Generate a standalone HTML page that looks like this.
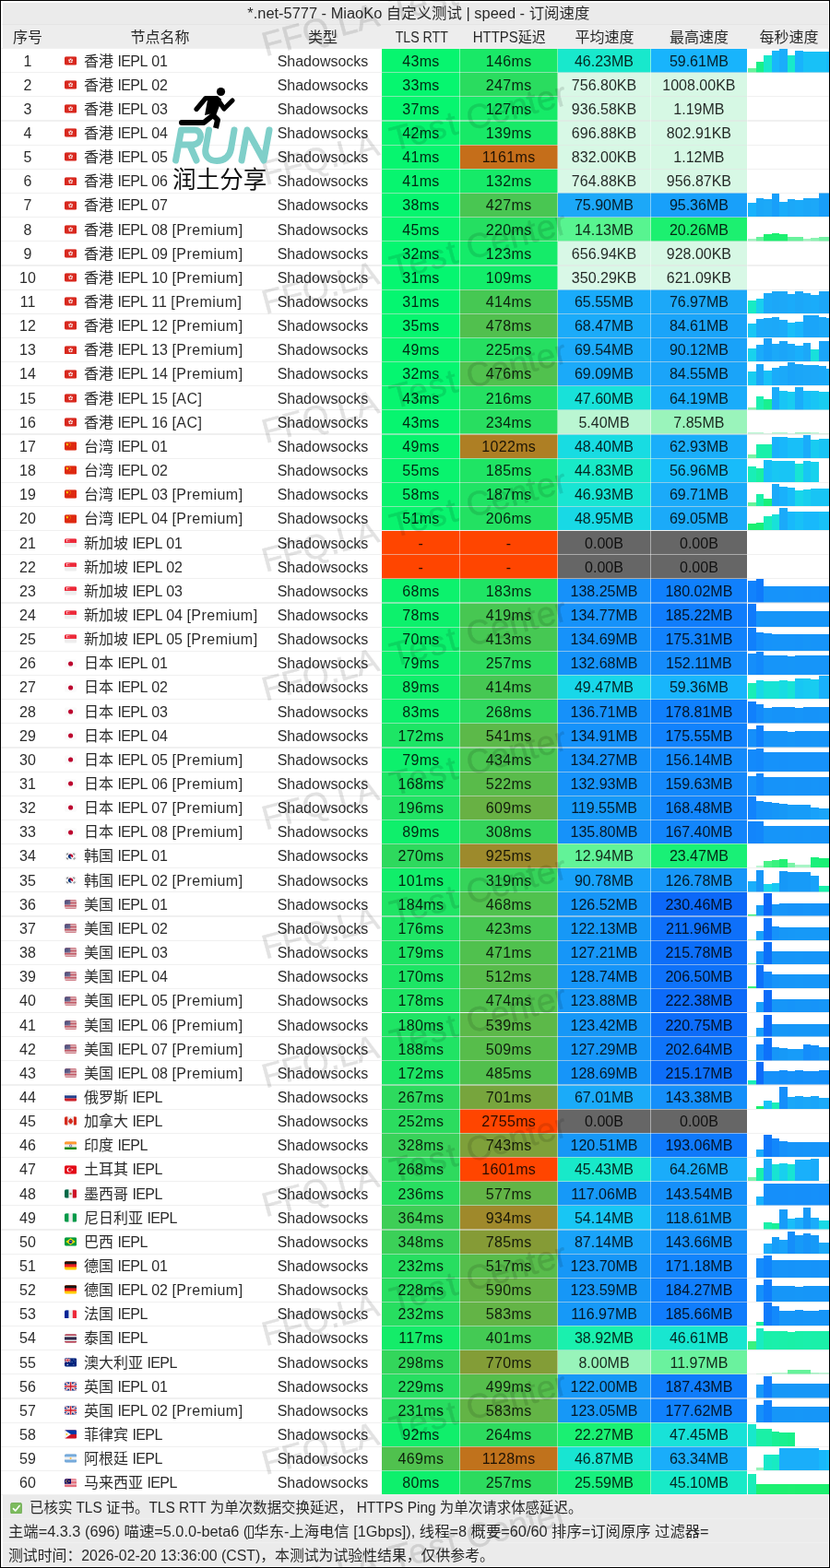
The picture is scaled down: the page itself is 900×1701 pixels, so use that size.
<!DOCTYPE html><html lang="zh"><head><meta charset="utf-8"><title>MiaoKo speed</title><style>
html,body{margin:0;padding:0}
body{width:900px;height:1701px;position:relative;overflow:hidden;background:#fff;font-family:"Liberation Sans","Noto Sans CJK SC",sans-serif;font-size:16px;color:rgba(0,0,0,.84)}
#pg{position:absolute;left:0;top:0;width:900px;height:1701px;will-change:transform}
.band{position:absolute;left:0;width:900px}
.r{position:absolute;left:0;width:900px;height:26.15px}
.t{position:absolute;height:26.15px;line-height:27.3px;white-space:nowrap}
.t.h1{line-height:29.2px}.t.h2{line-height:29.8px}
.r .t{top:0}
.c{text-align:center}
.d{letter-spacing:.35px;text-indent:.35px}.ie{letter-spacing:-.6px}.pm{letter-spacing:.47px}
.cj{display:inline-block;color:rgba(0,0,0,.84);overflow:visible;white-space:nowrap;letter-spacing:0;text-indent:0;text-align:left;font-family:"Liberation Sans","Noto Sans CJK SC",sans-serif;font-size:16px}
.fl{position:absolute;left:70px;top:8.3px;width:13.2px;height:9.9px}
.sp{position:absolute;left:810.5px;top:0;width:88.5px;height:26.15px}
.hl{position:absolute;left:0;width:900px;height:1.2px;background:rgba(228,228,228,.55)}
.hl.w{background:rgba(255,255,255,.22)}.hl.d{background:rgba(0,0,0,.035)}
.vl{position:absolute;width:1.2px;background:rgba(255,255,255,.45)}
.chk{width:13.2px;height:12.6px;vertical-align:-1.6px}
.tofu{width:6px;height:14px;vertical-align:-2px}
.wms{position:absolute;left:0;top:0;font-size:37px;fill:#000;stroke:#000;stroke-width:.5px;opacity:.115}
.sx{display:inline-block;transform-origin:50% 50%}
.sx.l{transform-origin:0 50%}
.logo{position:absolute;left:175px;top:85px}
.lt{position:absolute;left:187px;top:184.2px;height:25px;line-height:0}
.lt .cj{color:#111;font-size:25.6px;line-height:25.6px;position:relative;top:-1.5px}
.bw{position:absolute;left:1px;top:1px;width:898px;height:1699px;box-sizing:border-box;border:1px solid #fff;border-left-width:2px;border-top-width:2px}
.bk{position:absolute;left:0;top:0;width:900px;height:1701px;box-sizing:border-box;border:1px solid #000}
</style></head><body><svg width="0" height="0" style="position:absolute"><defs><clipPath id="fc"><rect width="36" height="26" rx="4.5"/></clipPath><symbol id="f-hk" viewBox="0 0 36 26"><g clip-path="url(#fc)"><rect width="36" height="26" fill="#D8281E"/><circle cx="18" cy="13" r="6.5" fill="#fff"/><circle cx="18" cy="13" r="2" fill="#D8281E"/><rect x="17.3" y="6" width="1.4" height="7" fill="#D8281E" transform="rotate(36 18 13)"/><rect x="17.3" y="6" width="1.4" height="7" fill="#D8281E" transform="rotate(108 18 13)"/><rect x="17.3" y="6" width="1.4" height="7" fill="#D8281E" transform="rotate(180 18 13)"/><rect x="17.3" y="6" width="1.4" height="7" fill="#D8281E" transform="rotate(252 18 13)"/><rect x="17.3" y="6" width="1.4" height="7" fill="#D8281E" transform="rotate(324 18 13)"/></g></symbol><symbol id="f-cn" viewBox="0 0 36 26"><g clip-path="url(#fc)"><rect width="36" height="26" fill="#DE2910"/><polygon points="8.0,3.0 9.2,6.3 12.8,6.5 10.0,8.6 10.9,12.0 8.0,10.1 5.1,12.0 6.0,8.6 3.2,6.5 6.8,6.3" fill="#FFDE02"/><polygon points="15.0,1.9 15.4,3.0 16.5,3.0 15.6,3.7 15.9,4.8 15.0,4.2 14.1,4.8 14.4,3.7 13.5,3.0 14.6,3.0" fill="#FFDE02"/><polygon points="17.5,4.9 17.9,6.0 19.0,6.0 18.1,6.7 18.4,7.8 17.5,7.2 16.6,7.8 16.9,6.7 16.0,6.0 17.1,6.0" fill="#FFDE02"/><polygon points="17.5,8.9 17.9,10.0 19.0,10.0 18.1,10.7 18.4,11.8 17.5,11.2 16.6,11.8 16.9,10.7 16.0,10.0 17.1,10.0" fill="#FFDE02"/><polygon points="15.0,11.9 15.4,13.0 16.5,13.0 15.6,13.7 15.9,14.8 15.0,14.2 14.1,14.8 14.4,13.7 13.5,13.0 14.6,13.0" fill="#FFDE02"/></g></symbol><symbol id="f-sg" viewBox="0 0 36 26"><g clip-path="url(#fc)"><rect width="36" height="26" fill="#EEEEEE"/><rect width="36" height="13" fill="#ED2939"/><circle cx="9" cy="6.5" r="4" fill="#fff"/><circle cx="10.8" cy="6.5" r="3.6" fill="#ED2939"/><polygon points="13.0,2.4 13.3,3.1 14.0,3.2 13.4,3.6 13.6,4.4 13.0,4.0 12.4,4.4 12.6,3.6 12.0,3.2 12.7,3.1" fill="#fff"/><polygon points="11.0,3.9 11.3,4.6 12.0,4.7 11.4,5.1 11.6,5.9 11.0,5.5 10.4,5.9 10.6,5.1 10.0,4.7 10.7,4.6" fill="#fff"/><polygon points="15.0,3.9 15.3,4.6 16.0,4.7 15.4,5.1 15.6,5.9 15.0,5.5 14.4,5.9 14.6,5.1 14.0,4.7 14.7,4.6" fill="#fff"/><polygon points="11.8,6.9 12.1,7.6 12.8,7.7 12.2,8.1 12.4,8.9 11.8,8.5 11.2,8.9 11.4,8.1 10.8,7.7 11.5,7.6" fill="#fff"/><polygon points="14.2,6.9 14.5,7.6 15.2,7.7 14.6,8.1 14.8,8.9 14.2,8.5 13.6,8.9 13.8,8.1 13.2,7.7 13.9,7.6" fill="#fff"/></g></symbol><symbol id="f-jp" viewBox="0 0 36 26"><g clip-path="url(#fc)"><rect width="36" height="26" fill="#FAFAFA"/><circle cx="18" cy="13" r="7" fill="#BC002D"/></g></symbol><symbol id="f-kr" viewBox="0 0 36 26"><g clip-path="url(#fc)"><rect width="36" height="26" fill="#FAFAFA"/><path d="M11.8 9.5a7 7 0 0 1 12.4 7z" fill="#C60C30"/><path d="M24.2 16.5a7 7 0 0 1-12.4-7a3.5 3.5 0 0 1 6.2 3.5a3.5 3.5 0 0 0 6.2 3.5z" fill="#003478"/><g stroke="#292F33" stroke-width="1.6"><path d="M5 8l4-5M7 9.5l4-5M26 21.5l4-5M28 23l4-5M25 4.5l4 5M27 3l4 5M5 18l4 5M7 16.5l4 5"/></g></g></symbol><symbol id="f-us" viewBox="0 0 36 26"><g clip-path="url(#fc)"><rect width="36" height="26" fill="#EEEEEE"/><rect y="0" width="36" height="2" fill="#B22334"/><rect y="4" width="36" height="2" fill="#B22334"/><rect y="8" width="36" height="2" fill="#B22334"/><rect y="12" width="36" height="2" fill="#B22334"/><rect y="16" width="36" height="2" fill="#B22334"/><rect y="20" width="36" height="2" fill="#B22334"/><rect y="24" width="36" height="2" fill="#B22334"/><rect width="17" height="14" fill="#3C3B6E"/><circle cx="2.5" cy="2.5" r=".8" fill="#fff"/><circle cx="5.5" cy="2.5" r=".8" fill="#fff"/><circle cx="8.5" cy="2.5" r=".8" fill="#fff"/><circle cx="11.5" cy="2.5" r=".8" fill="#fff"/><circle cx="14.5" cy="2.5" r=".8" fill="#fff"/><circle cx="2.5" cy="5.5" r=".8" fill="#fff"/><circle cx="5.5" cy="5.5" r=".8" fill="#fff"/><circle cx="8.5" cy="5.5" r=".8" fill="#fff"/><circle cx="11.5" cy="5.5" r=".8" fill="#fff"/><circle cx="14.5" cy="5.5" r=".8" fill="#fff"/><circle cx="2.5" cy="8.5" r=".8" fill="#fff"/><circle cx="5.5" cy="8.5" r=".8" fill="#fff"/><circle cx="8.5" cy="8.5" r=".8" fill="#fff"/><circle cx="11.5" cy="8.5" r=".8" fill="#fff"/><circle cx="14.5" cy="8.5" r=".8" fill="#fff"/><circle cx="2.5" cy="11.5" r=".8" fill="#fff"/><circle cx="5.5" cy="11.5" r=".8" fill="#fff"/><circle cx="8.5" cy="11.5" r=".8" fill="#fff"/><circle cx="11.5" cy="11.5" r=".8" fill="#fff"/><circle cx="14.5" cy="11.5" r=".8" fill="#fff"/></g></symbol><symbol id="f-ru" viewBox="0 0 36 26"><g clip-path="url(#fc)"><rect width="36" height="26" fill="#F6F6F6"/><rect y="8.7" width="36" height="8.7" fill="#22408C"/><rect y="17.3" width="36" height="8.7" fill="#CE2028"/></g></symbol><symbol id="f-ca" viewBox="0 0 36 26"><g clip-path="url(#fc)"><rect width="36" height="26" fill="#EEEEEE"/><rect width="9" height="26" fill="#D52B1E"/><rect x="27" width="9" height="26" fill="#D52B1E"/><path d="M18 4l2 4 3-1-1 5 3-1-1 3 2 1-5 4 .5 3h-7l.5-3-5-4 2-1-1-3 3 1-1-5 3 1z" fill="#D52B1E"/></g></symbol><symbol id="f-in" viewBox="0 0 36 26"><g clip-path="url(#fc)"><rect width="36" height="26" fill="#EEEEEE"/><rect width="36" height="8.7" fill="#FF9933"/><rect y="17.3" width="36" height="8.7" fill="#138808"/><circle cx="18" cy="13" r="3.3" fill="none" stroke="#000080" stroke-width="1.2"/></g></symbol><symbol id="f-tr" viewBox="0 0 36 26"><g clip-path="url(#fc)"><rect width="36" height="26" fill="#E30917"/><circle cx="14" cy="13" r="7" fill="#fff"/><circle cx="16" cy="13" r="5.6" fill="#E30917"/><polygon points="23.0,9.8 23.8,11.9 26.0,12.0 24.3,13.4 24.9,15.6 23.0,14.3 21.1,15.6 21.7,13.4 20.0,12.0 22.2,11.9" fill="#fff"/></g></symbol><symbol id="f-mx" viewBox="0 0 36 26"><g clip-path="url(#fc)"><rect width="36" height="26" fill="#EEEEEE"/><rect width="12" height="26" fill="#006847"/><rect x="24" width="12" height="26" fill="#CE1126"/><ellipse cx="18" cy="13" rx="3.2" ry="3.6" fill="#A6783F"/></g></symbol><symbol id="f-ng" viewBox="0 0 36 26"><g clip-path="url(#fc)"><rect width="36" height="26" fill="#EEEEEE"/><rect width="12" height="26" fill="#009A49"/><rect x="24" width="12" height="26" fill="#009A49"/></g></symbol><symbol id="f-br" viewBox="0 0 36 26"><g clip-path="url(#fc)"><rect width="36" height="26" fill="#009B3A"/><path d="M18 3l14 10-14 10L4 13z" fill="#FEDF01"/><circle cx="18" cy="13" r="5.6" fill="#002776"/><path d="M12.6 11.8c4-.8 8 .5 10.8 3" stroke="#fff" stroke-width="1.2" fill="none"/></g></symbol><symbol id="f-de" viewBox="0 0 36 26"><g clip-path="url(#fc)"><rect width="36" height="26" fill="#FFCD05"/><rect width="36" height="17.3" fill="#ED1F24"/><rect width="36" height="8.7" fill="#141414"/></g></symbol><symbol id="f-fr" viewBox="0 0 36 26"><g clip-path="url(#fc)"><rect width="36" height="26" fill="#EEEEEE"/><rect width="12" height="26" fill="#002495"/><rect x="24" width="12" height="26" fill="#ED2939"/></g></symbol><symbol id="f-th" viewBox="0 0 36 26"><g clip-path="url(#fc)"><rect width="36" height="26" fill="#EEEEEE"/><rect width="36" height="4.3" fill="#A51931"/><rect y="21.7" width="36" height="4.3" fill="#A51931"/><rect y="8.7" width="36" height="8.6" fill="#2D2A4A"/></g></symbol><symbol id="f-gb" viewBox="0 0 36 26"><g clip-path="url(#fc)"><g><rect width="36" height="26" fill="#00247D"/><path d="M0 0L36 26M36 0L0 26" stroke="#fff" stroke-width="5"/><path d="M0 0L36 26M36 0L0 26" stroke="#CF1B2B" stroke-width="1.8"/><path d="M18 0V26M0 13H36" stroke="#fff" stroke-width="8"/><path d="M18 0V26M0 13H36" stroke="#CF1B2B" stroke-width="4.4"/></g></g></symbol><symbol id="f-au" viewBox="0 0 36 26"><g clip-path="url(#fc)"><rect width="36" height="26" fill="#00247D"/><svg width="18" height="13" viewBox="0 0 18 13"><g><rect width="18" height="13" fill="#00247D"/><path d="M0 0L18 13M18 0L0 13" stroke="#fff" stroke-width="2.6"/><path d="M0 0L18 13M18 0L0 13" stroke="#CF1B2B" stroke-width="1"/><path d="M9 0V13M0 6.5H18" stroke="#fff" stroke-width="4"/><path d="M9 0V13M0 6.5H18" stroke="#CF1B2B" stroke-width="2.2"/></g></svg><polygon points="9.0,16.3 9.8,18.4 12.0,18.5 10.3,19.9 10.9,22.1 9.0,20.8 7.1,22.1 7.7,19.9 6.0,18.5 8.2,18.4" fill="#fff"/><polygon points="27.0,3.3 27.4,4.4 28.6,4.5 27.7,5.2 28.0,6.4 27.0,5.7 26.0,6.4 26.3,5.2 25.4,4.5 26.6,4.4" fill="#fff"/><polygon points="22.0,9.8 22.4,10.9 23.6,11.0 22.7,11.7 23.0,12.9 22.0,12.2 21.0,12.9 21.3,11.7 20.4,11.0 21.6,10.9" fill="#fff"/><polygon points="31.0,8.3 31.4,9.4 32.6,9.5 31.7,10.2 32.0,11.4 31.0,10.7 30.0,11.4 30.3,10.2 29.4,9.5 30.6,9.4" fill="#fff"/><polygon points="27.0,18.8 27.4,19.9 28.6,20.0 27.7,20.7 28.0,21.9 27.0,21.2 26.0,21.9 26.3,20.7 25.4,20.0 26.6,19.9" fill="#fff"/></g></symbol><symbol id="f-ph" viewBox="0 0 36 26"><g clip-path="url(#fc)"><rect width="36" height="26" fill="#CE1126"/><rect width="36" height="13" fill="#0038A8"/><path d="M0 0l19 13L0 26z" fill="#F5F5F5"/><circle cx="6.5" cy="13" r="2.6" fill="#FCD116"/></g></symbol><symbol id="f-ar" viewBox="0 0 36 26"><g clip-path="url(#fc)"><rect width="36" height="26" fill="#F2F2F2"/><rect width="36" height="8.7" fill="#75AADB"/><rect y="17.3" width="36" height="8.7" fill="#75AADB"/><circle cx="18" cy="13" r="2.8" fill="#FCBF49"/></g></symbol><symbol id="f-my" viewBox="0 0 36 26"><g clip-path="url(#fc)"><rect width="36" height="26" fill="#EEEEEE"/><rect y="0.00" width="36" height="1.86" fill="#DD2E44"/><rect y="3.72" width="36" height="1.86" fill="#DD2E44"/><rect y="7.44" width="36" height="1.86" fill="#DD2E44"/><rect y="11.16" width="36" height="1.86" fill="#DD2E44"/><rect y="14.88" width="36" height="1.86" fill="#DD2E44"/><rect y="18.60" width="36" height="1.86" fill="#DD2E44"/><rect y="22.32" width="36" height="1.86" fill="#DD2E44"/><rect width="19" height="14.9" fill="#010066"/><circle cx="7.5" cy="7.4" r="4.6" fill="#FFCC4D"/><circle cx="9" cy="7.4" r="4" fill="#010066"/><polygon points="13.5,4.6 14.2,6.4 16.2,6.5 14.6,7.8 15.1,9.7 13.5,8.6 11.9,9.7 12.4,7.8 10.8,6.5 12.8,6.4" fill="#FFCC4D"/></g></symbol></defs></svg><div id="pg"><div class="band" style="top:0;height:26.35px;background:#ebebeb"></div><div class="band" style="top:26.35px;height:26.15px;background:#ededed"></div><div class="band" style="top:1621.50px;height:79.50px;background:#ebebeb"></div><div class="bw"></div><div class="t c h1" style="top:0.20px;left:253.5px;width:400px"><span class="sx" style="transform:scaleX(1.026)">*.net-5777 - MiaoKo <span class="cj" style="width:80px">自定义测试</span> | speed - <span class="cj" style="width:64px">订阅速度</span></span></div><div class="t c h2" style="top:26.35px;left:-30px;width:120px"><span class="sx" style="transform:scaleX(1)"><span class="cj" style="width:32px">序号</span></span></div><div class="t c h2" style="top:26.35px;left:113.5px;width:120px"><span class="sx" style="transform:scaleX(1)"><span class="cj" style="width:64px">节点名称</span></span></div><div class="t c h2" style="top:26.35px;left:290px;width:120px"><span class="sx" style="transform:scaleX(1)"><span class="cj" style="width:32px">类型</span></span></div><div class="t c h2" style="top:26.35px;left:397.5px;width:120px"><span class="sx" style="transform:scaleX(0.885)">TLS RTT</span></div><div class="t c h2" style="top:26.35px;left:492px;width:120px"><span class="sx" style="transform:scaleX(0.936)">HTTPS<span class="cj" style="width:32px">延迟</span></span></div><div class="t c h2" style="top:26.35px;left:595.5px;width:120px"><span class="sx" style="transform:scaleX(1)"><span class="cj" style="width:64px">平均速度</span></span></div><div class="t c h2" style="top:26.35px;left:698px;width:120px"><span class="sx" style="transform:scaleX(1)"><span class="cj" style="width:64px">最高速度</span></span></div><div class="t c h2" style="top:26.35px;left:795.5px;width:120px"><span class="sx" style="transform:scaleX(1)"><span class="cj" style="width:64px">每秒速度</span></span></div><div class="r" style="top:52.50px"><div class="t c" style="left:0;width:60px">1</div><svg class="fl" viewBox="0 0 36 26"><use href="#f-hk"/></svg><div class="t" style="left:91px"><span class="cj" style="width:32px">香港</span> <span class="ie">IEPL</span> 01</div><div class="t c" style="left:290px;width:120px">Shadowsocks</div><div class="t c d" style="left:414px;width:84.5px;background:#07f56f">43ms</div><div class="t c d" style="left:498.5px;width:106.0px;background:#19e867">146ms</div><div class="t c" style="left:604.5px;width:101.0px;background:#18e8cc">46.23MB</div><div class="t c" style="left:705.5px;width:104.79999999999995px;background:#18b4fc">59.61MB</div><svg class="sp" viewBox="0 0 88.5 26.15" preserveAspectRatio="none" shape-rendering="crispEdges"><rect x="0" y="20.97" width="8.55" height="5.18" fill="#65f39a"/><rect x="8.5" y="14.49" width="8.55" height="11.65" fill="#18f088"/><rect x="17" y="7.50" width="8.55" height="18.65" fill="#18e9ca"/><rect x="25.5" y="2.06" width="8.55" height="24.09" fill="#18b7fb"/><rect x="34" y="0.25" width="8.55" height="25.90" fill="#1aadfa"/><rect x="42.5" y="7.50" width="8.55" height="18.65" fill="#18e9ca"/><rect x="51" y="1.55" width="8.55" height="24.60" fill="#18b3fc"/><rect x="59.5" y="3.36" width="8.55" height="22.79" fill="#18c1f7"/><rect x="68" y="3.36" width="8.55" height="22.79" fill="#18c1f7"/><rect x="76.5" y="3.36" width="8.55" height="22.79" fill="#18c1f7"/><rect x="85" y="2.84" width="8.55" height="23.31" fill="#18bcfa"/></svg></div><div class="r" style="top:78.65px"><div class="t c" style="left:0;width:60px">2</div><svg class="fl" viewBox="0 0 36 26"><use href="#f-hk"/></svg><div class="t" style="left:91px"><span class="cj" style="width:32px">香港</span> <span class="ie">IEPL</span> 02</div><div class="t c" style="left:290px;width:120px">Shadowsocks</div><div class="t c d" style="left:414px;width:84.5px;background:#06f66f">33ms</div><div class="t c d" style="left:498.5px;width:106.0px;background:#2adc5f">247ms</div><div class="t c" style="left:604.5px;width:101.0px;background:#d8f8e6">756.80KB</div><div class="t c" style="left:705.5px;width:104.79999999999995px;background:#d7f8e5">1008.00KB</div></div><div class="r" style="top:104.80px"><div class="t c" style="left:0;width:60px">3</div><svg class="fl" viewBox="0 0 36 26"><use href="#f-hk"/></svg><div class="t" style="left:91px"><span class="cj" style="width:32px">香港</span> <span class="ie">IEPL</span> 03</div><div class="t c" style="left:290px;width:120px">Shadowsocks</div><div class="t c d" style="left:414px;width:84.5px;background:#06f66f">37ms</div><div class="t c d" style="left:498.5px;width:106.0px;background:#16eb68">127ms</div><div class="t c" style="left:604.5px;width:101.0px;background:#d7f8e5">936.58KB</div><div class="t c" style="left:705.5px;width:104.79999999999995px;background:#d6f8e4">1.19MB</div></div><div class="r" style="top:130.95px"><div class="t c" style="left:0;width:60px">4</div><svg class="fl" viewBox="0 0 36 26"><use href="#f-hk"/></svg><div class="t" style="left:91px"><span class="cj" style="width:32px">香港</span> <span class="ie">IEPL</span> 04</div><div class="t c" style="left:290px;width:120px">Shadowsocks</div><div class="t c d" style="left:414px;width:84.5px;background:#07f56f">42ms</div><div class="t c d" style="left:498.5px;width:106.0px;background:#18e967">139ms</div><div class="t c" style="left:604.5px;width:101.0px;background:#d8f8e6">696.88KB</div><div class="t c" style="left:705.5px;width:104.79999999999995px;background:#d7f8e5">802.91KB</div></div><div class="r" style="top:157.10px"><div class="t c" style="left:0;width:60px">5</div><svg class="fl" viewBox="0 0 36 26"><use href="#f-hk"/></svg><div class="t" style="left:91px"><span class="cj" style="width:32px">香港</span> <span class="ie">IEPL</span> 05</div><div class="t c" style="left:290px;width:120px">Shadowsocks</div><div class="t c d" style="left:414px;width:84.5px;background:#07f56f">41ms</div><div class="t c d" style="left:498.5px;width:106.0px;background:#c56e1a">1161ms</div><div class="t c" style="left:604.5px;width:101.0px;background:#d7f8e5">832.00KB</div><div class="t c" style="left:705.5px;width:104.79999999999995px;background:#d6f8e4">1.12MB</div></div><div class="r" style="top:183.25px"><div class="t c" style="left:0;width:60px">6</div><svg class="fl" viewBox="0 0 36 26"><use href="#f-hk"/></svg><div class="t" style="left:91px"><span class="cj" style="width:32px">香港</span> <span class="ie">IEPL</span> 06</div><div class="t c" style="left:290px;width:120px">Shadowsocks</div><div class="t c d" style="left:414px;width:84.5px;background:#07f56f">41ms</div><div class="t c d" style="left:498.5px;width:106.0px;background:#16ea68">132ms</div><div class="t c" style="left:604.5px;width:101.0px;background:#d8f8e6">764.88KB</div><div class="t c" style="left:705.5px;width:104.79999999999995px;background:#d7f8e5">956.87KB</div></div><div class="r" style="top:209.40px"><div class="t c" style="left:0;width:60px">7</div><svg class="fl" viewBox="0 0 36 26"><use href="#f-hk"/></svg><div class="t" style="left:91px"><span class="cj" style="width:32px">香港</span> <span class="ie">IEPL</span> 07</div><div class="t c" style="left:290px;width:120px">Shadowsocks</div><div class="t c d" style="left:414px;width:84.5px;background:#06f56f">38ms</div><div class="t c d" style="left:498.5px;width:106.0px;background:#49c652">427ms</div><div class="t c" style="left:604.5px;width:101.0px;background:#1ca8f8">75.90MB</div><div class="t c" style="left:705.5px;width:104.79999999999995px;background:#18a0fa">95.36MB</div><svg class="sp" viewBox="0 0 88.5 26.15" preserveAspectRatio="none" shape-rendering="crispEdges"><rect x="0" y="10.61" width="8.55" height="15.54" fill="#18b2fc"/><rect x="8.5" y="5.95" width="8.55" height="20.20" fill="#1ba7f8"/><rect x="17" y="7.24" width="8.55" height="18.91" fill="#1ca9f8"/><rect x="25.5" y="1.03" width="8.55" height="25.12" fill="#189ffa"/><rect x="34" y="9.83" width="8.55" height="16.32" fill="#1aadfa"/><rect x="42.5" y="6.73" width="8.55" height="19.42" fill="#1ca8f8"/><rect x="51" y="8.02" width="8.55" height="18.13" fill="#1baaf9"/><rect x="59.5" y="5.95" width="8.55" height="20.20" fill="#1ba7f8"/><rect x="68" y="6.47" width="8.55" height="19.68" fill="#1ca8f8"/><rect x="76.5" y="0.25" width="8.55" height="25.90" fill="#189ef9"/><rect x="85" y="0.25" width="8.55" height="25.90" fill="#189ef9"/></svg></div><div class="r" style="top:235.55px"><div class="t c" style="left:0;width:60px">8</div><svg class="fl" viewBox="0 0 36 26"><use href="#f-hk"/></svg><div class="t" style="left:91px"><span class="cj" style="width:32px">香港</span> <span class="ie">IEPL</span> 08 <span class="pm">[Premium]</span></div><div class="t c" style="left:290px;width:120px">Shadowsocks</div><div class="t c d" style="left:414px;width:84.5px;background:#08f56f">45ms</div><div class="t c d" style="left:498.5px;width:106.0px;background:#25df61">220ms</div><div class="t c" style="left:604.5px;width:101.0px;background:#58f490">14.13MB</div><div class="t c" style="left:705.5px;width:104.79999999999995px;background:#1cf070">20.26MB</div><svg class="sp" viewBox="0 0 88.5 26.15" preserveAspectRatio="none" shape-rendering="crispEdges"><rect x="0" y="23.04" width="8.55" height="3.11" fill="#a0f4c0"/><rect x="8.5" y="20.97" width="8.55" height="5.18" fill="#67f29c"/><rect x="17" y="17.60" width="8.55" height="8.55" fill="#1cf070"/><rect x="25.5" y="17.09" width="8.55" height="9.06" fill="#1bf071"/><rect x="34" y="17.60" width="8.55" height="8.55" fill="#1cf070"/><rect x="42.5" y="20.97" width="8.55" height="5.18" fill="#67f29c"/><rect x="51" y="20.97" width="8.55" height="5.18" fill="#67f29c"/><rect x="59.5" y="23.04" width="8.55" height="3.11" fill="#a0f4c0"/><rect x="68" y="22.27" width="8.55" height="3.88" fill="#8af3b1"/><rect x="76.5" y="21.49" width="8.55" height="4.66" fill="#75f2a5"/><rect x="85" y="21.49" width="8.55" height="4.66" fill="#75f2a5"/></svg></div><div class="r" style="top:261.70px"><div class="t c" style="left:0;width:60px">9</div><svg class="fl" viewBox="0 0 36 26"><use href="#f-hk"/></svg><div class="t" style="left:91px"><span class="cj" style="width:32px">香港</span> <span class="ie">IEPL</span> 09 <span class="pm">[Premium]</span></div><div class="t c" style="left:290px;width:120px">Shadowsocks</div><div class="t c d" style="left:414px;width:84.5px;background:#05f670">32ms</div><div class="t c d" style="left:498.5px;width:106.0px;background:#15eb69">123ms</div><div class="t c" style="left:604.5px;width:101.0px;background:#d8f8e6">656.94KB</div><div class="t c" style="left:705.5px;width:104.79999999999995px;background:#d7f8e5">928.00KB</div></div><div class="r" style="top:287.85px"><div class="t c" style="left:0;width:60px">10</div><svg class="fl" viewBox="0 0 36 26"><use href="#f-hk"/></svg><div class="t" style="left:91px"><span class="cj" style="width:32px">香港</span> <span class="ie">IEPL</span> 10 <span class="pm">[Premium]</span></div><div class="t c" style="left:290px;width:120px">Shadowsocks</div><div class="t c d" style="left:414px;width:84.5px;background:#05f670">31ms</div><div class="t c d" style="left:498.5px;width:106.0px;background:#13ed6a">109ms</div><div class="t c" style="left:604.5px;width:101.0px;background:#d9f8e7">350.29KB</div><div class="t c" style="left:705.5px;width:104.79999999999995px;background:#d8f8e6">621.09KB</div></div><div class="r" style="top:314.00px"><div class="t c" style="left:0;width:60px">11</div><svg class="fl" viewBox="0 0 36 26"><use href="#f-hk"/></svg><div class="t" style="left:91px"><span class="cj" style="width:32px">香港</span> <span class="ie">IEPL</span> 11 <span class="pm">[Premium]</span></div><div class="t c" style="left:290px;width:120px">Shadowsocks</div><div class="t c d" style="left:414px;width:84.5px;background:#05f670">31ms</div><div class="t c d" style="left:498.5px;width:106.0px;background:#46c853">414ms</div><div class="t c" style="left:604.5px;width:101.0px;background:#1aabfa">65.55MB</div><div class="t c" style="left:705.5px;width:104.79999999999995px;background:#1ca8f8">76.97MB</div><svg class="sp" viewBox="0 0 88.5 26.15" preserveAspectRatio="none" shape-rendering="crispEdges"><rect x="0" y="12.16" width="8.55" height="13.99" fill="#18ebc4"/><rect x="8.5" y="9.83" width="8.55" height="16.32" fill="#18cfef"/><rect x="17" y="4.14" width="8.55" height="22.01" fill="#1baaf9"/><rect x="25.5" y="1.55" width="8.55" height="24.60" fill="#1ca7f8"/><rect x="34" y="2.32" width="8.55" height="23.83" fill="#1ca8f8"/><rect x="42.5" y="4.91" width="8.55" height="21.24" fill="#1aabfa"/><rect x="51" y="1.55" width="8.55" height="24.60" fill="#1ca7f8"/><rect x="59.5" y="4.14" width="8.55" height="22.01" fill="#1baaf9"/><rect x="68" y="5.69" width="8.55" height="20.46" fill="#1aacfa"/><rect x="76.5" y="1.55" width="8.55" height="24.60" fill="#1ca7f8"/><rect x="85" y="1.55" width="8.55" height="24.60" fill="#1ca7f8"/></svg></div><div class="r" style="top:340.15px"><div class="t c" style="left:0;width:60px">12</div><svg class="fl" viewBox="0 0 36 26"><use href="#f-hk"/></svg><div class="t" style="left:91px"><span class="cj" style="width:32px">香港</span> <span class="ie">IEPL</span> 12 <span class="pm">[Premium]</span></div><div class="t c" style="left:290px;width:120px">Shadowsocks</div><div class="t c d" style="left:414px;width:84.5px;background:#06f66f">35ms</div><div class="t c d" style="left:498.5px;width:106.0px;background:#51c04e">478ms</div><div class="t c" style="left:604.5px;width:101.0px;background:#1babf9">68.47MB</div><div class="t c" style="left:705.5px;width:104.79999999999995px;background:#1aa4f9">84.61MB</div><svg class="sp" viewBox="0 0 88.5 26.15" preserveAspectRatio="none" shape-rendering="crispEdges"><rect x="0" y="10.61" width="8.55" height="15.54" fill="#18c7f4"/><rect x="8.5" y="5.69" width="8.55" height="20.46" fill="#1baaf9"/><rect x="17" y="4.91" width="8.55" height="21.24" fill="#1ca9f8"/><rect x="25.5" y="4.14" width="8.55" height="22.01" fill="#1ca8f8"/><rect x="34" y="6.73" width="8.55" height="19.42" fill="#1babf9"/><rect x="42.5" y="9.83" width="8.55" height="16.32" fill="#18bef9"/><rect x="51" y="9.06" width="8.55" height="17.09" fill="#18b5fc"/><rect x="59.5" y="1.80" width="8.55" height="24.35" fill="#1aa5f9"/><rect x="68" y="1.80" width="8.55" height="24.35" fill="#1aa5f9"/><rect x="76.5" y="4.14" width="8.55" height="22.01" fill="#1ca8f8"/><rect x="85" y="4.91" width="8.55" height="21.24" fill="#1ca9f8"/></svg></div><div class="r" style="top:366.30px"><div class="t c" style="left:0;width:60px">13</div><svg class="fl" viewBox="0 0 36 26"><use href="#f-hk"/></svg><div class="t" style="left:91px"><span class="cj" style="width:32px">香港</span> <span class="ie">IEPL</span> 13 <span class="pm">[Premium]</span></div><div class="t c" style="left:290px;width:120px">Shadowsocks</div><div class="t c d" style="left:414px;width:84.5px;background:#08f46e">49ms</div><div class="t c d" style="left:498.5px;width:106.0px;background:#26df61">225ms</div><div class="t c" style="left:604.5px;width:101.0px;background:#1baaf9">69.54MB</div><div class="t c" style="left:705.5px;width:104.79999999999995px;background:#19a2f9">90.12MB</div><svg class="sp" viewBox="0 0 88.5 26.15" preserveAspectRatio="none" shape-rendering="crispEdges"><rect x="0" y="12.42" width="8.55" height="13.73" fill="#18d2ed"/><rect x="8.5" y="8.28" width="8.55" height="17.87" fill="#1aabfa"/><rect x="17" y="1.03" width="8.55" height="25.12" fill="#18a1fa"/><rect x="25.5" y="6.73" width="8.55" height="19.42" fill="#1ba9f9"/><rect x="34" y="3.62" width="8.55" height="22.53" fill="#1ba5f9"/><rect x="42.5" y="6.73" width="8.55" height="19.42" fill="#1ba9f9"/><rect x="51" y="9.31" width="8.55" height="16.84" fill="#19affb"/><rect x="59.5" y="5.95" width="8.55" height="20.20" fill="#1ca8f8"/><rect x="68" y="13.20" width="8.55" height="12.95" fill="#18e0db"/><rect x="76.5" y="3.62" width="8.55" height="22.53" fill="#1ba5f9"/><rect x="85" y="3.62" width="8.55" height="22.53" fill="#1ba5f9"/></svg></div><div class="r" style="top:392.45px"><div class="t c" style="left:0;width:60px">14</div><svg class="fl" viewBox="0 0 36 26"><use href="#f-hk"/></svg><div class="t" style="left:91px"><span class="cj" style="width:32px">香港</span> <span class="ie">IEPL</span> 14 <span class="pm">[Premium]</span></div><div class="t c" style="left:290px;width:120px">Shadowsocks</div><div class="t c d" style="left:414px;width:84.5px;background:#05f670">32ms</div><div class="t c d" style="left:498.5px;width:106.0px;background:#51c14e">476ms</div><div class="t c" style="left:604.5px;width:101.0px;background:#1baaf9">69.09MB</div><div class="t c" style="left:705.5px;width:104.79999999999995px;background:#1aa4f9">84.55MB</div><svg class="sp" viewBox="0 0 88.5 26.15" preserveAspectRatio="none" shape-rendering="crispEdges"><rect x="0" y="11.13" width="8.55" height="15.02" fill="#18cdf0"/><rect x="8.5" y="2.84" width="8.55" height="23.31" fill="#1ba6f8"/><rect x="17" y="10.09" width="8.55" height="16.06" fill="#18c1f7"/><rect x="25.5" y="6.98" width="8.55" height="19.17" fill="#1aabfa"/><rect x="34" y="5.43" width="8.55" height="20.72" fill="#1ba9f9"/><rect x="42.5" y="1.29" width="8.55" height="24.86" fill="#1aa4f9"/><rect x="51" y="2.84" width="8.55" height="23.31" fill="#1ba6f8"/><rect x="59.5" y="3.62" width="8.55" height="22.53" fill="#1ca7f8"/><rect x="68" y="4.39" width="8.55" height="21.76" fill="#1ca8f8"/><rect x="76.5" y="5.43" width="8.55" height="20.72" fill="#1ba9f9"/><rect x="85" y="7.76" width="8.55" height="18.39" fill="#1aadfa"/></svg></div><div class="r" style="top:418.60px"><div class="t c" style="left:0;width:60px">15</div><svg class="fl" viewBox="0 0 36 26"><use href="#f-hk"/></svg><div class="t" style="left:91px"><span class="cj" style="width:32px">香港</span> <span class="ie">IEPL</span> 15 <span class="pm">[AC]</span></div><div class="t c" style="left:290px;width:120px">Shadowsocks</div><div class="t c d" style="left:414px;width:84.5px;background:#07f56f">43ms</div><div class="t c d" style="left:498.5px;width:106.0px;background:#25e062">216ms</div><div class="t c" style="left:604.5px;width:101.0px;background:#18e1d9">47.60MB</div><div class="t c" style="left:705.5px;width:104.79999999999995px;background:#1aacfa">64.19MB</div><svg class="sp" viewBox="0 0 88.5 26.15" preserveAspectRatio="none" shape-rendering="crispEdges"><rect x="0" y="22.52" width="8.55" height="3.63" fill="#86f3af"/><rect x="8.5" y="11.13" width="8.55" height="15.02" fill="#1af0b0"/><rect x="17" y="14.49" width="8.55" height="11.65" fill="#19f090"/><rect x="25.5" y="1.29" width="8.55" height="24.86" fill="#1aacfa"/><rect x="34" y="5.43" width="8.55" height="20.72" fill="#18c5f5"/><rect x="42.5" y="6.21" width="8.55" height="19.94" fill="#18ccf1"/><rect x="51" y="1.29" width="8.55" height="24.86" fill="#1aacfa"/><rect x="59.5" y="4.65" width="8.55" height="21.50" fill="#18bef9"/><rect x="68" y="5.43" width="8.55" height="20.72" fill="#18c5f5"/><rect x="76.5" y="6.21" width="8.55" height="19.94" fill="#18ccf1"/><rect x="85" y="6.21" width="8.55" height="19.94" fill="#18ccf1"/></svg></div><div class="r" style="top:444.75px"><div class="t c" style="left:0;width:60px">16</div><svg class="fl" viewBox="0 0 36 26"><use href="#f-hk"/></svg><div class="t" style="left:91px"><span class="cj" style="width:32px">香港</span> <span class="ie">IEPL</span> 16 <span class="pm">[AC]</span></div><div class="t c" style="left:290px;width:120px">Shadowsocks</div><div class="t c d" style="left:414px;width:84.5px;background:#07f56f">43ms</div><div class="t c d" style="left:498.5px;width:106.0px;background:#28de60">234ms</div><div class="t c" style="left:604.5px;width:101.0px;background:#baf6d2">5.40MB</div><div class="t c" style="left:705.5px;width:104.79999999999995px;background:#9af4bb">7.85MB</div><svg class="sp" viewBox="0 0 88.5 26.15" preserveAspectRatio="none" shape-rendering="crispEdges"><rect x="0" y="24.34" width="8.55" height="1.81" fill="#bbf6d3"/><rect x="8.5" y="24.34" width="8.55" height="1.81" fill="#bbf6d3"/><rect x="17" y="24.85" width="8.55" height="1.29" fill="#c5f7d9"/><rect x="25.5" y="24.08" width="8.55" height="2.07" fill="#b3f6cd"/><rect x="34" y="24.08" width="8.55" height="2.07" fill="#b3f6cd"/><rect x="42.5" y="24.85" width="8.55" height="1.29" fill="#c5f7d9"/><rect x="51" y="23.56" width="8.55" height="2.59" fill="#a0f4bf"/><rect x="59.5" y="23.56" width="8.55" height="2.59" fill="#a0f4bf"/><rect x="68" y="24.34" width="8.55" height="1.81" fill="#bbf6d3"/><rect x="76.5" y="24.85" width="8.55" height="1.29" fill="#c5f7d9"/><rect x="85" y="24.85" width="8.55" height="1.29" fill="#c5f7d9"/></svg></div><div class="r" style="top:470.90px"><div class="t c" style="left:0;width:60px">17</div><svg class="fl" viewBox="0 0 36 26"><use href="#f-cn"/></svg><div class="t" style="left:91px"><span class="cj" style="width:32px">台湾</span> <span class="ie">IEPL</span> 01</div><div class="t c" style="left:290px;width:120px">Shadowsocks</div><div class="t c d" style="left:414px;width:84.5px;background:#08f46e">49ms</div><div class="t c d" style="left:498.5px;width:106.0px;background:#ae7f24">1022ms</div><div class="t c" style="left:604.5px;width:101.0px;background:#18dce2">48.40MB</div><div class="t c" style="left:705.5px;width:104.79999999999995px;background:#1aaefa">62.93MB</div><svg class="sp" viewBox="0 0 88.5 26.15" preserveAspectRatio="none" shape-rendering="crispEdges"><rect x="0" y="22.01" width="8.55" height="4.14" fill="#79f3a7"/><rect x="8.5" y="11.39" width="8.55" height="14.76" fill="#1af0aa"/><rect x="17" y="11.39" width="8.55" height="14.76" fill="#1af0aa"/><rect x="25.5" y="2.58" width="8.55" height="23.57" fill="#19b2fb"/><rect x="34" y="3.36" width="8.55" height="22.79" fill="#18b7fb"/><rect x="42.5" y="4.39" width="8.55" height="21.76" fill="#18bff8"/><rect x="51" y="4.39" width="8.55" height="21.76" fill="#18bff8"/><rect x="59.5" y="1.29" width="8.55" height="24.86" fill="#1aacfa"/><rect x="68" y="5.69" width="8.55" height="20.46" fill="#18cbf1"/><rect x="76.5" y="4.91" width="8.55" height="21.24" fill="#18c4f5"/><rect x="85" y="4.91" width="8.55" height="21.24" fill="#18c4f5"/></svg></div><div class="r" style="top:497.05px"><div class="t c" style="left:0;width:60px">18</div><svg class="fl" viewBox="0 0 36 26"><use href="#f-cn"/></svg><div class="t" style="left:91px"><span class="cj" style="width:32px">台湾</span> <span class="ie">IEPL</span> 02</div><div class="t c" style="left:290px;width:120px">Shadowsocks</div><div class="t c d" style="left:414px;width:84.5px;background:#09f36e">55ms</div><div class="t c d" style="left:498.5px;width:106.0px;background:#1fe464">185ms</div><div class="t c" style="left:604.5px;width:101.0px;background:#18eac7">44.83MB</div><div class="t c" style="left:705.5px;width:104.79999999999995px;background:#18bcfa">56.96MB</div><svg class="sp" viewBox="0 0 88.5 26.15" preserveAspectRatio="none" shape-rendering="crispEdges"><rect x="0" y="8.54" width="8.55" height="17.61" fill="#19eeb7"/><rect x="8.5" y="10.87" width="8.55" height="15.28" fill="#19f0a2"/><rect x="17" y="2.06" width="8.55" height="24.09" fill="#18bff8"/><rect x="25.5" y="3.10" width="8.55" height="23.05" fill="#18c7f3"/><rect x="34" y="2.84" width="8.55" height="23.31" fill="#18c5f5"/><rect x="42.5" y="2.84" width="8.55" height="23.31" fill="#18c5f5"/><rect x="51" y="5.95" width="8.55" height="20.20" fill="#18e4d4"/><rect x="59.5" y="3.10" width="8.55" height="23.05" fill="#18c7f3"/><rect x="68" y="4.39" width="8.55" height="21.76" fill="#18d2ed"/></svg></div><div class="r" style="top:523.20px"><div class="t c" style="left:0;width:60px">19</div><svg class="fl" viewBox="0 0 36 26"><use href="#f-cn"/></svg><div class="t" style="left:91px"><span class="cj" style="width:32px">台湾</span> <span class="ie">IEPL</span> 03 <span class="pm">[Premium]</span></div><div class="t c" style="left:290px;width:120px">Shadowsocks</div><div class="t c d" style="left:414px;width:84.5px;background:#0af36e">58ms</div><div class="t c d" style="left:498.5px;width:106.0px;background:#20e364">187ms</div><div class="t c" style="left:604.5px;width:101.0px;background:#18e5d3">46.93MB</div><div class="t c" style="left:705.5px;width:104.79999999999995px;background:#1baaf9">69.71MB</div><svg class="sp" viewBox="0 0 88.5 26.15" preserveAspectRatio="none" shape-rendering="crispEdges"><rect x="0" y="21.75" width="8.55" height="4.40" fill="#65f39a"/><rect x="8.5" y="13.20" width="8.55" height="12.95" fill="#1af0a7"/><rect x="17" y="17.60" width="8.55" height="8.55" fill="#19f07a"/><rect x="25.5" y="1.80" width="8.55" height="24.35" fill="#1baaf9"/><rect x="34" y="4.65" width="8.55" height="21.50" fill="#19b1fb"/><rect x="42.5" y="6.21" width="8.55" height="19.94" fill="#18bcfa"/><rect x="51" y="8.80" width="8.55" height="17.35" fill="#18d6e9"/><rect x="59.5" y="8.02" width="8.55" height="18.13" fill="#18ceef"/><rect x="68" y="6.98" width="8.55" height="19.17" fill="#18c4f5"/><rect x="76.5" y="6.98" width="8.55" height="19.17" fill="#18c4f5"/><rect x="85" y="6.98" width="8.55" height="19.17" fill="#18c4f5"/></svg></div><div class="r" style="top:549.35px"><div class="t c" style="left:0;width:60px">20</div><svg class="fl" viewBox="0 0 36 26"><use href="#f-cn"/></svg><div class="t" style="left:91px"><span class="cj" style="width:32px">台湾</span> <span class="ie">IEPL</span> 04 <span class="pm">[Premium]</span></div><div class="t c" style="left:290px;width:120px">Shadowsocks</div><div class="t c d" style="left:414px;width:84.5px;background:#09f46e">51ms</div><div class="t c d" style="left:498.5px;width:106.0px;background:#23e162">206ms</div><div class="t c" style="left:604.5px;width:101.0px;background:#18d9e5">48.95MB</div><div class="t c" style="left:705.5px;width:104.79999999999995px;background:#1baaf9">69.05MB</div><svg class="sp" viewBox="0 0 88.5 26.15" preserveAspectRatio="none" shape-rendering="crispEdges"><rect x="0" y="18.64" width="8.55" height="7.51" fill="#1bf071"/><rect x="8.5" y="17.86" width="8.55" height="8.29" fill="#19f076"/><rect x="17" y="11.39" width="8.55" height="14.76" fill="#19edba"/><rect x="25.5" y="9.31" width="8.55" height="16.84" fill="#18e1d9"/><rect x="34" y="1.55" width="8.55" height="24.60" fill="#1baaf9"/><rect x="42.5" y="5.69" width="8.55" height="20.46" fill="#18b9fb"/><rect x="51" y="6.47" width="8.55" height="19.68" fill="#18c1f7"/><rect x="59.5" y="5.69" width="8.55" height="20.46" fill="#18b9fb"/><rect x="68" y="5.69" width="8.55" height="20.46" fill="#18b9fb"/><rect x="76.5" y="6.47" width="8.55" height="19.68" fill="#18c1f7"/><rect x="85" y="6.47" width="8.55" height="19.68" fill="#18c1f7"/></svg></div><div class="r" style="top:575.50px"><div class="t c" style="left:0;width:60px">21</div><svg class="fl" viewBox="0 0 36 26"><use href="#f-sg"/></svg><div class="t" style="left:91px"><span class="cj" style="width:48px">新加坡</span> <span class="ie">IEPL</span> 01</div><div class="t c" style="left:290px;width:120px">Shadowsocks</div><div class="t c d" style="left:414px;width:84.5px;background:#FF4500">-</div><div class="t c d" style="left:498.5px;width:106.0px;background:#FF4500">-</div><div class="t c" style="left:604.5px;width:101.0px;background:#666666">0.00B</div><div class="t c" style="left:705.5px;width:104.79999999999995px;background:#666666">0.00B</div></div><div class="r" style="top:601.65px"><div class="t c" style="left:0;width:60px">22</div><svg class="fl" viewBox="0 0 36 26"><use href="#f-sg"/></svg><div class="t" style="left:91px"><span class="cj" style="width:48px">新加坡</span> <span class="ie">IEPL</span> 02</div><div class="t c" style="left:290px;width:120px">Shadowsocks</div><div class="t c d" style="left:414px;width:84.5px;background:#FF4500">-</div><div class="t c d" style="left:498.5px;width:106.0px;background:#FF4500">-</div><div class="t c" style="left:604.5px;width:101.0px;background:#666666">0.00B</div><div class="t c" style="left:705.5px;width:104.79999999999995px;background:#666666">0.00B</div></div><div class="r" style="top:627.80px"><div class="t c" style="left:0;width:60px">23</div><svg class="fl" viewBox="0 0 36 26"><use href="#f-sg"/></svg><div class="t" style="left:91px"><span class="cj" style="width:48px">新加坡</span> <span class="ie">IEPL</span> 03</div><div class="t c" style="left:290px;width:120px">Shadowsocks</div><div class="t c d" style="left:414px;width:84.5px;background:#0cf26d">68ms</div><div class="t c d" style="left:498.5px;width:106.0px;background:#1fe464">183ms</div><div class="t c" style="left:604.5px;width:101.0px;background:#1691fa">138.25MB</div><div class="t c" style="left:705.5px;width:104.79999999999995px;background:#1080fc">180.02MB</div><svg class="sp" viewBox="0 0 88.5 26.15" preserveAspectRatio="none" shape-rendering="crispEdges"><rect x="0" y="2.32" width="8.55" height="23.83" fill="#1182fc"/><rect x="8.5" y="0.25" width="8.55" height="25.90" fill="#0f7afb"/><rect x="17" y="8.02" width="8.55" height="18.13" fill="#1693fa"/><rect x="25.5" y="8.02" width="8.55" height="18.13" fill="#1693fa"/><rect x="34" y="8.02" width="8.55" height="18.13" fill="#1693fa"/><rect x="42.5" y="8.28" width="8.55" height="17.87" fill="#1694f9"/><rect x="51" y="8.02" width="8.55" height="18.13" fill="#1693fa"/><rect x="59.5" y="7.76" width="8.55" height="18.39" fill="#1692fa"/><rect x="68" y="8.02" width="8.55" height="18.13" fill="#1693fa"/><rect x="76.5" y="7.76" width="8.55" height="18.39" fill="#1692fa"/><rect x="85" y="7.76" width="8.55" height="18.39" fill="#1692fa"/></svg></div><div class="r" style="top:653.95px"><div class="t c" style="left:0;width:60px">24</div><svg class="fl" viewBox="0 0 36 26"><use href="#f-sg"/></svg><div class="t" style="left:91px"><span class="cj" style="width:48px">新加坡</span> <span class="ie">IEPL</span> 04 <span class="pm">[Premium]</span></div><div class="t c" style="left:290px;width:120px">Shadowsocks</div><div class="t c d" style="left:414px;width:84.5px;background:#0df16c">78ms</div><div class="t c d" style="left:498.5px;width:106.0px;background:#47c752">419ms</div><div class="t c" style="left:604.5px;width:101.0px;background:#1692fa">134.77MB</div><div class="t c" style="left:705.5px;width:104.79999999999995px;background:#107dfc">185.22MB</div><svg class="sp" viewBox="0 0 88.5 26.15" preserveAspectRatio="none" shape-rendering="crispEdges"><rect x="0" y="0.77" width="8.55" height="25.38" fill="#0f7afb"/><rect x="8.5" y="9.06" width="8.55" height="17.09" fill="#1695f9"/><rect x="17" y="9.31" width="8.55" height="16.84" fill="#1695f8"/><rect x="25.5" y="9.31" width="8.55" height="16.84" fill="#1695f8"/><rect x="34" y="9.31" width="8.55" height="16.84" fill="#1695f8"/><rect x="42.5" y="9.06" width="8.55" height="17.09" fill="#1695f9"/><rect x="51" y="9.31" width="8.55" height="16.84" fill="#1695f8"/><rect x="59.5" y="9.31" width="8.55" height="16.84" fill="#1695f8"/><rect x="68" y="9.31" width="8.55" height="16.84" fill="#1695f8"/><rect x="76.5" y="9.31" width="8.55" height="16.84" fill="#1695f8"/><rect x="85" y="9.31" width="8.55" height="16.84" fill="#1695f8"/></svg></div><div class="r" style="top:680.10px"><div class="t c" style="left:0;width:60px">25</div><svg class="fl" viewBox="0 0 36 26"><use href="#f-sg"/></svg><div class="t" style="left:91px"><span class="cj" style="width:48px">新加坡</span> <span class="ie">IEPL</span> 05 <span class="pm">[Premium]</span></div><div class="t c" style="left:290px;width:120px">Shadowsocks</div><div class="t c d" style="left:414px;width:84.5px;background:#0cf26d">70ms</div><div class="t c d" style="left:498.5px;width:106.0px;background:#46c853">413ms</div><div class="t c" style="left:604.5px;width:101.0px;background:#1692fa">134.69MB</div><div class="t c" style="left:705.5px;width:104.79999999999995px;background:#1182fc">175.31MB</div><svg class="sp" viewBox="0 0 88.5 26.15" preserveAspectRatio="none" shape-rendering="crispEdges"><rect x="0" y="1.03" width="8.55" height="25.12" fill="#1080fc"/><rect x="8.5" y="5.69" width="8.55" height="20.46" fill="#148dfb"/><rect x="17" y="7.50" width="8.55" height="18.65" fill="#1693fa"/><rect x="25.5" y="8.02" width="8.55" height="18.13" fill="#1694f9"/><rect x="34" y="8.02" width="8.55" height="18.13" fill="#1694f9"/><rect x="42.5" y="8.02" width="8.55" height="18.13" fill="#1694f9"/><rect x="51" y="7.76" width="8.55" height="18.39" fill="#1693f9"/><rect x="59.5" y="8.28" width="8.55" height="17.87" fill="#1695f8"/><rect x="68" y="8.02" width="8.55" height="18.13" fill="#1694f9"/><rect x="76.5" y="8.02" width="8.55" height="18.13" fill="#1694f9"/><rect x="85" y="8.02" width="8.55" height="18.13" fill="#1694f9"/></svg></div><div class="r" style="top:706.25px"><div class="t c" style="left:0;width:60px">26</div><svg class="fl" viewBox="0 0 36 26"><use href="#f-jp"/></svg><div class="t" style="left:91px"><span class="cj" style="width:32px">日本</span> <span class="ie">IEPL</span> 01</div><div class="t c" style="left:290px;width:120px">Shadowsocks</div><div class="t c d" style="left:414px;width:84.5px;background:#0df06c">79ms</div><div class="t c d" style="left:498.5px;width:106.0px;background:#2cdb5e">257ms</div><div class="t c" style="left:604.5px;width:101.0px;background:#1693f9">132.68MB</div><div class="t c" style="left:705.5px;width:104.79999999999995px;background:#148bfb">152.11MB</div><svg class="sp" viewBox="0 0 88.5 26.15" preserveAspectRatio="none" shape-rendering="crispEdges"><rect x="0" y="2.84" width="8.55" height="23.31" fill="#158efa"/><rect x="8.5" y="1.03" width="8.55" height="25.12" fill="#1389fb"/><rect x="17" y="5.43" width="8.55" height="20.72" fill="#1695f9"/><rect x="25.5" y="5.43" width="8.55" height="20.72" fill="#1695f9"/><rect x="34" y="5.43" width="8.55" height="20.72" fill="#1695f9"/><rect x="42.5" y="5.69" width="8.55" height="20.46" fill="#1696f8"/><rect x="51" y="5.43" width="8.55" height="20.72" fill="#1695f9"/><rect x="59.5" y="5.43" width="8.55" height="20.72" fill="#1695f9"/><rect x="68" y="5.43" width="8.55" height="20.72" fill="#1695f9"/><rect x="76.5" y="5.43" width="8.55" height="20.72" fill="#1695f9"/><rect x="85" y="5.43" width="8.55" height="20.72" fill="#1695f9"/></svg></div><div class="r" style="top:732.40px"><div class="t c" style="left:0;width:60px">27</div><svg class="fl" viewBox="0 0 36 26"><use href="#f-jp"/></svg><div class="t" style="left:91px"><span class="cj" style="width:32px">日本</span> <span class="ie">IEPL</span> 02</div><div class="t c" style="left:290px;width:120px">Shadowsocks</div><div class="t c d" style="left:414px;width:84.5px;background:#0fef6b">89ms</div><div class="t c d" style="left:498.5px;width:106.0px;background:#46c853">414ms</div><div class="t c" style="left:604.5px;width:101.0px;background:#18d7e9">49.47MB</div><div class="t c" style="left:705.5px;width:104.79999999999995px;background:#18b5fc">59.36MB</div><svg class="sp" viewBox="0 0 88.5 26.15" preserveAspectRatio="none" shape-rendering="crispEdges"><rect x="0" y="9.31" width="8.55" height="16.84" fill="#19eeb6"/><rect x="8.5" y="5.95" width="8.55" height="20.20" fill="#18d9e6"/><rect x="17" y="6.73" width="8.55" height="19.42" fill="#18e3d5"/><rect x="25.5" y="6.73" width="8.55" height="19.42" fill="#18e3d5"/><rect x="34" y="6.21" width="8.55" height="19.94" fill="#18dce2"/><rect x="42.5" y="6.73" width="8.55" height="19.42" fill="#18e3d5"/><rect x="51" y="3.88" width="8.55" height="22.27" fill="#18c6f4"/><rect x="59.5" y="4.39" width="8.55" height="21.76" fill="#18caf2"/><rect x="68" y="4.65" width="8.55" height="21.50" fill="#18ccf0"/><rect x="76.5" y="1.03" width="8.55" height="25.12" fill="#19b1fb"/><rect x="85" y="1.03" width="8.55" height="25.12" fill="#19b1fb"/></svg></div><div class="r" style="top:758.55px"><div class="t c" style="left:0;width:60px">28</div><svg class="fl" viewBox="0 0 36 26"><use href="#f-jp"/></svg><div class="t" style="left:91px"><span class="cj" style="width:32px">日本</span> <span class="ie">IEPL</span> 03</div><div class="t c" style="left:290px;width:120px">Shadowsocks</div><div class="t c d" style="left:414px;width:84.5px;background:#0ef06c">83ms</div><div class="t c d" style="left:498.5px;width:106.0px;background:#2eda5e">268ms</div><div class="t c" style="left:604.5px;width:101.0px;background:#1691fa">136.71MB</div><div class="t c" style="left:705.5px;width:104.79999999999995px;background:#1080fc">178.81MB</div><svg class="sp" viewBox="0 0 88.5 26.15" preserveAspectRatio="none" shape-rendering="crispEdges"><rect x="0" y="1.55" width="8.55" height="24.60" fill="#1080fc"/><rect x="8.5" y="5.43" width="8.55" height="20.72" fill="#148bfb"/><rect x="17" y="8.54" width="8.55" height="17.61" fill="#1695f9"/><rect x="25.5" y="8.02" width="8.55" height="18.13" fill="#1693f9"/><rect x="34" y="8.02" width="8.55" height="18.13" fill="#1693f9"/><rect x="42.5" y="8.02" width="8.55" height="18.13" fill="#1693f9"/><rect x="51" y="8.54" width="8.55" height="17.61" fill="#1695f9"/><rect x="59.5" y="8.02" width="8.55" height="18.13" fill="#1693f9"/><rect x="68" y="8.02" width="8.55" height="18.13" fill="#1693f9"/><rect x="76.5" y="8.28" width="8.55" height="17.87" fill="#1694f9"/><rect x="85" y="8.28" width="8.55" height="17.87" fill="#1694f9"/></svg></div><div class="r" style="top:784.70px"><div class="t c" style="left:0;width:60px">29</div><svg class="fl" viewBox="0 0 36 26"><use href="#f-jp"/></svg><div class="t" style="left:91px"><span class="cj" style="width:32px">日本</span> <span class="ie">IEPL</span> 04</div><div class="t c" style="left:290px;width:120px">Shadowsocks</div><div class="t c d" style="left:414px;width:84.5px;background:#1de565">172ms</div><div class="t c d" style="left:498.5px;width:106.0px;background:#5cb949">541ms</div><div class="t c" style="left:604.5px;width:101.0px;background:#1692fa">134.91MB</div><div class="t c" style="left:705.5px;width:104.79999999999995px;background:#1182fc">175.55MB</div><svg class="sp" viewBox="0 0 88.5 26.15" preserveAspectRatio="none" shape-rendering="crispEdges"><rect x="0" y="6.47" width="8.55" height="19.68" fill="#158ffa"/><rect x="8.5" y="1.55" width="8.55" height="24.60" fill="#1081fc"/><rect x="17" y="8.02" width="8.55" height="18.13" fill="#1694f9"/><rect x="25.5" y="8.02" width="8.55" height="18.13" fill="#1694f9"/><rect x="34" y="8.02" width="8.55" height="18.13" fill="#1694f9"/><rect x="42.5" y="8.54" width="8.55" height="17.61" fill="#1696f8"/><rect x="51" y="8.02" width="8.55" height="18.13" fill="#1694f9"/><rect x="59.5" y="8.02" width="8.55" height="18.13" fill="#1694f9"/><rect x="68" y="8.28" width="8.55" height="17.87" fill="#1695f8"/><rect x="76.5" y="8.02" width="8.55" height="18.13" fill="#1694f9"/><rect x="85" y="8.02" width="8.55" height="18.13" fill="#1694f9"/></svg></div><div class="r" style="top:810.85px"><div class="t c" style="left:0;width:60px">30</div><svg class="fl" viewBox="0 0 36 26"><use href="#f-jp"/></svg><div class="t" style="left:91px"><span class="cj" style="width:32px">日本</span> <span class="ie">IEPL</span> 05 <span class="pm">[Premium]</span></div><div class="t c" style="left:290px;width:120px">Shadowsocks</div><div class="t c d" style="left:414px;width:84.5px;background:#0df06c">79ms</div><div class="t c d" style="left:498.5px;width:106.0px;background:#4ac651">434ms</div><div class="t c" style="left:604.5px;width:101.0px;background:#1692fa">134.27MB</div><div class="t c" style="left:705.5px;width:104.79999999999995px;background:#138afb">156.14MB</div><svg class="sp" viewBox="0 0 88.5 26.15" preserveAspectRatio="none" shape-rendering="crispEdges"><rect x="0" y="1.80" width="8.55" height="24.35" fill="#138afb"/><rect x="8.5" y="1.29" width="8.55" height="24.86" fill="#1388fb"/><rect x="17" y="4.91" width="8.55" height="21.24" fill="#1692fa"/><rect x="25.5" y="5.17" width="8.55" height="20.98" fill="#1692fa"/><rect x="34" y="4.65" width="8.55" height="21.50" fill="#1691fa"/><rect x="42.5" y="4.91" width="8.55" height="21.24" fill="#1692fa"/><rect x="51" y="5.17" width="8.55" height="20.98" fill="#1692fa"/><rect x="59.5" y="4.91" width="8.55" height="21.24" fill="#1692fa"/><rect x="68" y="4.91" width="8.55" height="21.24" fill="#1692fa"/><rect x="76.5" y="4.91" width="8.55" height="21.24" fill="#1692fa"/><rect x="85" y="4.91" width="8.55" height="21.24" fill="#1692fa"/></svg></div><div class="r" style="top:837.00px"><div class="t c" style="left:0;width:60px">31</div><svg class="fl" viewBox="0 0 36 26"><use href="#f-jp"/></svg><div class="t" style="left:91px"><span class="cj" style="width:32px">日本</span> <span class="ie">IEPL</span> 06 <span class="pm">[Premium]</span></div><div class="t c" style="left:290px;width:120px">Shadowsocks</div><div class="t c d" style="left:414px;width:84.5px;background:#1de665">168ms</div><div class="t c d" style="left:498.5px;width:106.0px;background:#59bb4a">522ms</div><div class="t c" style="left:604.5px;width:101.0px;background:#1693fa">132.93MB</div><div class="t c" style="left:705.5px;width:104.79999999999995px;background:#1388fb">159.63MB</div><svg class="sp" viewBox="0 0 88.5 26.15" preserveAspectRatio="none" shape-rendering="crispEdges"><rect x="0" y="5.17" width="8.55" height="20.98" fill="#1691fa"/><rect x="8.5" y="1.55" width="8.55" height="24.60" fill="#1388fb"/><rect x="17" y="5.95" width="8.55" height="20.20" fill="#1693f9"/><rect x="25.5" y="5.95" width="8.55" height="20.20" fill="#1693f9"/><rect x="34" y="5.95" width="8.55" height="20.20" fill="#1693f9"/><rect x="42.5" y="6.21" width="8.55" height="19.94" fill="#1694f9"/><rect x="51" y="5.95" width="8.55" height="20.20" fill="#1693f9"/><rect x="59.5" y="5.95" width="8.55" height="20.20" fill="#1693f9"/><rect x="68" y="6.21" width="8.55" height="19.94" fill="#1694f9"/><rect x="76.5" y="5.95" width="8.55" height="20.20" fill="#1693f9"/><rect x="85" y="5.95" width="8.55" height="20.20" fill="#1693f9"/></svg></div><div class="r" style="top:863.15px"><div class="t c" style="left:0;width:60px">32</div><svg class="fl" viewBox="0 0 36 26"><use href="#f-jp"/></svg><div class="t" style="left:91px"><span class="cj" style="width:32px">日本</span> <span class="ie">IEPL</span> 07 <span class="pm">[Premium]</span></div><div class="t c" style="left:290px;width:120px">Shadowsocks</div><div class="t c d" style="left:414px;width:84.5px;background:#21e263">196ms</div><div class="t c d" style="left:498.5px;width:106.0px;background:#68b144">609ms</div><div class="t c" style="left:604.5px;width:101.0px;background:#1699f7">119.55MB</div><div class="t c" style="left:705.5px;width:104.79999999999995px;background:#1285fb">168.48MB</div><svg class="sp" viewBox="0 0 88.5 26.15" preserveAspectRatio="none" shape-rendering="crispEdges"><rect x="0" y="1.29" width="8.55" height="24.86" fill="#1183fc"/><rect x="8.5" y="6.21" width="8.55" height="19.94" fill="#1691fa"/><rect x="17" y="6.98" width="8.55" height="19.17" fill="#1693f9"/><rect x="25.5" y="7.76" width="8.55" height="18.39" fill="#1696f8"/><rect x="34" y="8.54" width="8.55" height="17.61" fill="#1698f7"/><rect x="42.5" y="10.35" width="8.55" height="15.80" fill="#179cf8"/><rect x="51" y="10.35" width="8.55" height="15.80" fill="#179cf8"/><rect x="59.5" y="10.35" width="8.55" height="15.80" fill="#179cf8"/><rect x="68" y="12.68" width="8.55" height="13.47" fill="#18a1fa"/><rect x="76.5" y="13.72" width="8.55" height="12.43" fill="#1aa4f9"/><rect x="85" y="14.49" width="8.55" height="11.65" fill="#1ba6f8"/></svg></div><div class="r" style="top:889.30px"><div class="t c" style="left:0;width:60px">33</div><svg class="fl" viewBox="0 0 36 26"><use href="#f-jp"/></svg><div class="t" style="left:91px"><span class="cj" style="width:32px">日本</span> <span class="ie">IEPL</span> 08 <span class="pm">[Premium]</span></div><div class="t c" style="left:290px;width:120px">Shadowsocks</div><div class="t c d" style="left:414px;width:84.5px;background:#0fef6b">89ms</div><div class="t c d" style="left:498.5px;width:106.0px;background:#34d55b">308ms</div><div class="t c" style="left:604.5px;width:101.0px;background:#1692fa">135.80MB</div><div class="t c" style="left:705.5px;width:104.79999999999995px;background:#1285fb">167.40MB</div><svg class="sp" viewBox="0 0 88.5 26.15" preserveAspectRatio="none" shape-rendering="crispEdges"><rect x="0" y="1.55" width="8.55" height="24.60" fill="#1285fb"/><rect x="8.5" y="2.32" width="8.55" height="23.83" fill="#1287fb"/><rect x="17" y="7.24" width="8.55" height="18.91" fill="#1695f9"/><rect x="25.5" y="7.24" width="8.55" height="18.91" fill="#1695f9"/><rect x="34" y="7.24" width="8.55" height="18.91" fill="#1695f9"/><rect x="42.5" y="7.50" width="8.55" height="18.65" fill="#1695f8"/><rect x="51" y="6.98" width="8.55" height="19.17" fill="#1694f9"/><rect x="59.5" y="7.24" width="8.55" height="18.91" fill="#1695f9"/><rect x="68" y="6.98" width="8.55" height="19.17" fill="#1694f9"/><rect x="76.5" y="6.98" width="8.55" height="19.17" fill="#1694f9"/><rect x="85" y="6.98" width="8.55" height="19.17" fill="#1694f9"/></svg></div><div class="r" style="top:915.45px"><div class="t c" style="left:0;width:60px">34</div><svg class="fl" viewBox="0 0 36 26"><use href="#f-kr"/></svg><div class="t" style="left:91px"><span class="cj" style="width:32px">韩国</span> <span class="ie">IEPL</span> 01</div><div class="t c" style="left:290px;width:120px">Shadowsocks</div><div class="t c d" style="left:414px;width:84.5px;background:#2ed95d">270ms</div><div class="t c d" style="left:498.5px;width:106.0px;background:#9d8a2c">925ms</div><div class="t c" style="left:604.5px;width:101.0px;background:#62f398">12.94MB</div><div class="t c" style="left:705.5px;width:104.79999999999995px;background:#19f076">23.47MB</div><svg class="sp" viewBox="0 0 88.5 26.15" preserveAspectRatio="none" shape-rendering="crispEdges"><rect x="8.5" y="23.82" width="8.55" height="2.33" fill="#bcf6d3"/><rect x="17" y="18.90" width="8.55" height="7.25" fill="#48f388"/><rect x="25.5" y="18.12" width="8.55" height="8.03" fill="#38f27f"/><rect x="34" y="17.09" width="8.55" height="9.06" fill="#22f073"/><rect x="42.5" y="21.23" width="8.55" height="4.92" fill="#79f3a7"/><rect x="51" y="23.04" width="8.55" height="3.11" fill="#a8f5c6"/><rect x="59.5" y="23.04" width="8.55" height="3.11" fill="#a8f5c6"/><rect x="68" y="14.75" width="8.55" height="11.40" fill="#19f07b"/><rect x="76.5" y="15.53" width="8.55" height="10.62" fill="#1af075"/><rect x="85" y="15.53" width="8.55" height="10.62" fill="#1af075"/></svg></div><div class="r" style="top:941.60px"><div class="t c" style="left:0;width:60px">35</div><svg class="fl" viewBox="0 0 36 26"><use href="#f-kr"/></svg><div class="t" style="left:91px"><span class="cj" style="width:32px">韩国</span> <span class="ie">IEPL</span> 02 <span class="pm">[Premium]</span></div><div class="t c" style="left:290px;width:120px">Shadowsocks</div><div class="t c d" style="left:414px;width:84.5px;background:#11ee6a">101ms</div><div class="t c d" style="left:498.5px;width:106.0px;background:#36d45a">319ms</div><div class="t c" style="left:604.5px;width:101.0px;background:#19a2fa">90.78MB</div><div class="t c" style="left:705.5px;width:104.79999999999995px;background:#1696f8">126.78MB</div><svg class="sp" viewBox="0 0 88.5 26.15" preserveAspectRatio="none" shape-rendering="crispEdges"><rect x="0" y="13.98" width="8.55" height="12.17" fill="#1aaefa"/><rect x="8.5" y="1.80" width="8.55" height="24.35" fill="#1696f8"/><rect x="17" y="16.57" width="8.55" height="9.58" fill="#18d5ea"/><rect x="25.5" y="15.79" width="8.55" height="10.36" fill="#18c7f4"/><rect x="34" y="2.84" width="8.55" height="23.31" fill="#1698f7"/><rect x="42.5" y="4.39" width="8.55" height="21.76" fill="#179bf8"/><rect x="51" y="4.39" width="8.55" height="21.76" fill="#179bf8"/><rect x="59.5" y="4.39" width="8.55" height="21.76" fill="#179bf8"/><rect x="68" y="8.28" width="8.55" height="17.87" fill="#18a1fa"/><rect x="76.5" y="18.90" width="8.55" height="7.25" fill="#1af0a9"/><rect x="85" y="18.90" width="8.55" height="7.25" fill="#1af0a9"/></svg></div><div class="r" style="top:967.75px"><div class="t c" style="left:0;width:60px">36</div><svg class="fl" viewBox="0 0 36 26"><use href="#f-us"/></svg><div class="t" style="left:91px"><span class="cj" style="width:32px">美国</span> <span class="ie">IEPL</span> 01</div><div class="t c" style="left:290px;width:120px">Shadowsocks</div><div class="t c d" style="left:414px;width:84.5px;background:#1fe464">184ms</div><div class="t c d" style="left:498.5px;width:106.0px;background:#50c24e">468ms</div><div class="t c" style="left:604.5px;width:101.0px;background:#1696f8">126.52MB</div><div class="t c" style="left:705.5px;width:104.79999999999995px;background:#0c68f8">230.46MB</div><svg class="sp" viewBox="0 0 88.5 26.15" preserveAspectRatio="none" shape-rendering="crispEdges"><rect x="0" y="24.34" width="8.55" height="1.81" fill="#3bf280"/><rect x="8.5" y="14.49" width="8.55" height="11.65" fill="#179cf8"/><rect x="17" y="1.29" width="8.55" height="24.86" fill="#0c68f8"/><rect x="25.5" y="12.94" width="8.55" height="13.21" fill="#1697f8"/><rect x="34" y="12.42" width="8.55" height="13.73" fill="#1695f9"/><rect x="42.5" y="12.16" width="8.55" height="13.99" fill="#1693f9"/><rect x="51" y="12.16" width="8.55" height="13.99" fill="#1693f9"/><rect x="59.5" y="12.42" width="8.55" height="13.73" fill="#1695f9"/><rect x="68" y="12.16" width="8.55" height="13.99" fill="#1693f9"/><rect x="76.5" y="12.16" width="8.55" height="13.99" fill="#1693f9"/><rect x="85" y="12.16" width="8.55" height="13.99" fill="#1693f9"/></svg></div><div class="r" style="top:993.90px"><div class="t c" style="left:0;width:60px">37</div><svg class="fl" viewBox="0 0 36 26"><use href="#f-us"/></svg><div class="t" style="left:91px"><span class="cj" style="width:32px">美国</span> <span class="ie">IEPL</span> 02</div><div class="t c" style="left:290px;width:120px">Shadowsocks</div><div class="t c d" style="left:414px;width:84.5px;background:#1ee565">176ms</div><div class="t c d" style="left:498.5px;width:106.0px;background:#48c752">423ms</div><div class="t c" style="left:604.5px;width:101.0px;background:#1698f7">122.13MB</div><div class="t c" style="left:705.5px;width:104.79999999999995px;background:#0e70fa">211.96MB</div><svg class="sp" viewBox="0 0 88.5 26.15" preserveAspectRatio="none" shape-rendering="crispEdges"><rect x="0" y="25.37" width="8.55" height="0.78" fill="#a8f5c6"/><rect x="8.5" y="15.53" width="8.55" height="10.62" fill="#19a1fa"/><rect x="17" y="1.80" width="8.55" height="24.35" fill="#0e70fa"/><rect x="25.5" y="10.61" width="8.55" height="15.54" fill="#1692fa"/><rect x="34" y="11.90" width="8.55" height="14.25" fill="#1697f7"/><rect x="42.5" y="12.16" width="8.55" height="13.99" fill="#1698f7"/><rect x="51" y="12.42" width="8.55" height="13.73" fill="#1699f7"/><rect x="59.5" y="12.42" width="8.55" height="13.73" fill="#1699f7"/><rect x="68" y="12.42" width="8.55" height="13.73" fill="#1699f7"/><rect x="76.5" y="12.42" width="8.55" height="13.73" fill="#1699f7"/><rect x="85" y="12.42" width="8.55" height="13.73" fill="#1699f7"/></svg></div><div class="r" style="top:1020.05px"><div class="t c" style="left:0;width:60px">38</div><svg class="fl" viewBox="0 0 36 26"><use href="#f-us"/></svg><div class="t" style="left:91px"><span class="cj" style="width:32px">美国</span> <span class="ie">IEPL</span> 03</div><div class="t c" style="left:290px;width:120px">Shadowsocks</div><div class="t c d" style="left:414px;width:84.5px;background:#1ee464">179ms</div><div class="t c d" style="left:498.5px;width:106.0px;background:#50c14e">471ms</div><div class="t c" style="left:604.5px;width:101.0px;background:#1696f8">127.21MB</div><div class="t c" style="left:705.5px;width:104.79999999999995px;background:#0d6ef9">215.78MB</div><svg class="sp" viewBox="0 0 88.5 26.15" preserveAspectRatio="none" shape-rendering="crispEdges"><rect x="0" y="25.11" width="8.55" height="1.04" fill="#8bf3b2"/><rect x="8.5" y="11.65" width="8.55" height="14.50" fill="#1695f8"/><rect x="17" y="1.80" width="8.55" height="24.35" fill="#0d6ff9"/><rect x="25.5" y="11.65" width="8.55" height="14.50" fill="#1695f8"/><rect x="34" y="11.65" width="8.55" height="14.50" fill="#1695f8"/><rect x="42.5" y="11.65" width="8.55" height="14.50" fill="#1695f8"/><rect x="51" y="11.90" width="8.55" height="14.25" fill="#1696f8"/><rect x="59.5" y="11.65" width="8.55" height="14.50" fill="#1695f8"/><rect x="68" y="11.65" width="8.55" height="14.50" fill="#1695f8"/><rect x="76.5" y="11.65" width="8.55" height="14.50" fill="#1695f8"/><rect x="85" y="11.65" width="8.55" height="14.50" fill="#1695f8"/></svg></div><div class="r" style="top:1046.20px"><div class="t c" style="left:0;width:60px">39</div><svg class="fl" viewBox="0 0 36 26"><use href="#f-us"/></svg><div class="t" style="left:91px"><span class="cj" style="width:32px">美国</span> <span class="ie">IEPL</span> 04</div><div class="t c" style="left:290px;width:120px">Shadowsocks</div><div class="t c d" style="left:414px;width:84.5px;background:#1de565">170ms</div><div class="t c d" style="left:498.5px;width:106.0px;background:#57bc4b">512ms</div><div class="t c" style="left:604.5px;width:101.0px;background:#1695f9">128.74MB</div><div class="t c" style="left:705.5px;width:104.79999999999995px;background:#0e72fa">206.50MB</div><svg class="sp" viewBox="0 0 88.5 26.15" preserveAspectRatio="none" shape-rendering="crispEdges"><rect x="0" y="24.08" width="8.55" height="2.07" fill="#37f27e"/><rect x="8.5" y="1.29" width="8.55" height="24.86" fill="#0e71fa"/><rect x="17" y="7.76" width="8.55" height="18.39" fill="#138afb"/><rect x="25.5" y="10.61" width="8.55" height="15.54" fill="#1694f9"/><rect x="34" y="11.13" width="8.55" height="15.02" fill="#1696f8"/><rect x="42.5" y="11.13" width="8.55" height="15.02" fill="#1696f8"/><rect x="51" y="11.39" width="8.55" height="14.76" fill="#1697f8"/><rect x="59.5" y="11.13" width="8.55" height="15.02" fill="#1696f8"/><rect x="68" y="11.13" width="8.55" height="15.02" fill="#1696f8"/><rect x="76.5" y="11.13" width="8.55" height="15.02" fill="#1696f8"/><rect x="85" y="11.13" width="8.55" height="15.02" fill="#1696f8"/></svg></div><div class="r" style="top:1072.35px"><div class="t c" style="left:0;width:60px">40</div><svg class="fl" viewBox="0 0 36 26"><use href="#f-us"/></svg><div class="t" style="left:91px"><span class="cj" style="width:32px">美国</span> <span class="ie">IEPL</span> 05 <span class="pm">[Premium]</span></div><div class="t c" style="left:290px;width:120px">Shadowsocks</div><div class="t c d" style="left:414px;width:84.5px;background:#1ee564">178ms</div><div class="t c d" style="left:498.5px;width:106.0px;background:#51c14e">474ms</div><div class="t c" style="left:604.5px;width:101.0px;background:#1697f7">123.88MB</div><div class="t c" style="left:705.5px;width:104.79999999999995px;background:#0d6bf9">222.38MB</div><svg class="sp" viewBox="0 0 88.5 26.15" preserveAspectRatio="none" shape-rendering="crispEdges"><rect x="0" y="25.89" width="8.55" height="0.26" fill="#cef7df"/><rect x="8.5" y="15.27" width="8.55" height="10.88" fill="#189ffa"/><rect x="17" y="1.55" width="8.55" height="24.60" fill="#0d6bf9"/><rect x="25.5" y="12.16" width="8.55" height="13.99" fill="#1696f8"/><rect x="34" y="12.16" width="8.55" height="13.99" fill="#1696f8"/><rect x="42.5" y="11.90" width="8.55" height="14.25" fill="#1694f9"/><rect x="51" y="12.16" width="8.55" height="13.99" fill="#1696f8"/><rect x="59.5" y="12.16" width="8.55" height="13.99" fill="#1696f8"/><rect x="68" y="11.90" width="8.55" height="14.25" fill="#1694f9"/><rect x="76.5" y="12.16" width="8.55" height="13.99" fill="#1696f8"/><rect x="85" y="12.16" width="8.55" height="13.99" fill="#1696f8"/></svg></div><div class="r" style="top:1098.50px"><div class="t c" style="left:0;width:60px">41</div><svg class="fl" viewBox="0 0 36 26"><use href="#f-us"/></svg><div class="t" style="left:91px"><span class="cj" style="width:32px">美国</span> <span class="ie">IEPL</span> 06 <span class="pm">[Premium]</span></div><div class="t c" style="left:290px;width:120px">Shadowsocks</div><div class="t c d" style="left:414px;width:84.5px;background:#1fe464">180ms</div><div class="t c d" style="left:498.5px;width:106.0px;background:#5cb949">539ms</div><div class="t c" style="left:604.5px;width:101.0px;background:#1697f7">123.42MB</div><div class="t c" style="left:705.5px;width:104.79999999999995px;background:#0d6cf9">220.75MB</div><svg class="sp" viewBox="0 0 88.5 26.15" preserveAspectRatio="none" shape-rendering="crispEdges"><rect x="0" y="25.37" width="8.55" height="0.78" fill="#a5f5c3"/><rect x="8.5" y="15.53" width="8.55" height="10.62" fill="#18a0fa"/><rect x="17" y="1.55" width="8.55" height="24.60" fill="#0d6bf9"/><rect x="25.5" y="12.42" width="8.55" height="13.73" fill="#1697f7"/><rect x="34" y="12.42" width="8.55" height="13.73" fill="#1697f7"/><rect x="42.5" y="12.16" width="8.55" height="13.99" fill="#1696f8"/><rect x="51" y="12.42" width="8.55" height="13.73" fill="#1697f7"/><rect x="59.5" y="12.42" width="8.55" height="13.73" fill="#1697f7"/><rect x="68" y="12.16" width="8.55" height="13.99" fill="#1696f8"/><rect x="76.5" y="12.42" width="8.55" height="13.73" fill="#1697f7"/><rect x="85" y="12.42" width="8.55" height="13.73" fill="#1697f7"/></svg></div><div class="r" style="top:1124.65px"><div class="t c" style="left:0;width:60px">42</div><svg class="fl" viewBox="0 0 36 26"><use href="#f-us"/></svg><div class="t" style="left:91px"><span class="cj" style="width:32px">美国</span> <span class="ie">IEPL</span> 07 <span class="pm">[Premium]</span></div><div class="t c" style="left:290px;width:120px">Shadowsocks</div><div class="t c d" style="left:414px;width:84.5px;background:#20e364">188ms</div><div class="t c d" style="left:498.5px;width:106.0px;background:#57bd4b">509ms</div><div class="t c" style="left:604.5px;width:101.0px;background:#1696f8">127.29MB</div><div class="t c" style="left:705.5px;width:104.79999999999995px;background:#0e74fa">202.64MB</div><svg class="sp" viewBox="0 0 88.5 26.15" preserveAspectRatio="none" shape-rendering="crispEdges"><rect x="0" y="24.60" width="8.55" height="1.55" fill="#62f398"/><rect x="8.5" y="8.28" width="8.55" height="17.87" fill="#148dfb"/><rect x="17" y="1.03" width="8.55" height="25.12" fill="#0e71fa"/><rect x="25.5" y="10.87" width="8.55" height="15.28" fill="#1696f8"/><rect x="34" y="11.65" width="8.55" height="14.50" fill="#1699f7"/><rect x="42.5" y="13.20" width="8.55" height="12.95" fill="#179cf9"/><rect x="51" y="13.20" width="8.55" height="12.95" fill="#179cf9"/><rect x="59.5" y="8.28" width="8.55" height="17.87" fill="#148dfb"/><rect x="68" y="9.31" width="8.55" height="16.84" fill="#1590fa"/><rect x="76.5" y="10.87" width="8.55" height="15.28" fill="#1696f8"/><rect x="85" y="10.87" width="8.55" height="15.28" fill="#1696f8"/></svg></div><div class="r" style="top:1150.80px"><div class="t c" style="left:0;width:60px">43</div><svg class="fl" viewBox="0 0 36 26"><use href="#f-us"/></svg><div class="t" style="left:91px"><span class="cj" style="width:32px">美国</span> <span class="ie">IEPL</span> 08 <span class="pm">[Premium]</span></div><div class="t c" style="left:290px;width:120px">Shadowsocks</div><div class="t c d" style="left:414px;width:84.5px;background:#1de565">172ms</div><div class="t c d" style="left:498.5px;width:106.0px;background:#52bf4d">485ms</div><div class="t c" style="left:604.5px;width:101.0px;background:#1695f9">128.69MB</div><div class="t c" style="left:705.5px;width:104.79999999999995px;background:#0d6ef9">215.17MB</div><svg class="sp" viewBox="0 0 88.5 26.15" preserveAspectRatio="none" shape-rendering="crispEdges"><rect x="0" y="21.49" width="8.55" height="4.66" fill="#19eeb7"/><rect x="8.5" y="1.03" width="8.55" height="25.12" fill="#0d6cf9"/><rect x="17" y="10.61" width="8.55" height="15.54" fill="#1691fa"/><rect x="25.5" y="10.61" width="8.55" height="15.54" fill="#1691fa"/><rect x="34" y="10.09" width="8.55" height="16.06" fill="#158ffa"/><rect x="42.5" y="10.61" width="8.55" height="15.54" fill="#1691fa"/><rect x="51" y="10.35" width="8.55" height="15.80" fill="#1590fa"/><rect x="59.5" y="10.61" width="8.55" height="15.54" fill="#1691fa"/><rect x="68" y="10.61" width="8.55" height="15.54" fill="#1691fa"/><rect x="76.5" y="10.35" width="8.55" height="15.80" fill="#1590fa"/><rect x="85" y="10.35" width="8.55" height="15.80" fill="#1590fa"/></svg></div><div class="r" style="top:1176.95px"><div class="t c" style="left:0;width:60px">44</div><svg class="fl" viewBox="0 0 36 26"><use href="#f-ru"/></svg><div class="t" style="left:91px"><span class="cj" style="width:48px">俄罗斯</span> <span class="ie">IEPL</span></div><div class="t c" style="left:290px;width:120px">Shadowsocks</div><div class="t c d" style="left:414px;width:84.5px;background:#2dda5e">267ms</div><div class="t c d" style="left:498.5px;width:106.0px;background:#77a53d">701ms</div><div class="t c" style="left:604.5px;width:101.0px;background:#1babf9">67.01MB</div><div class="t c" style="left:705.5px;width:104.79999999999995px;background:#158ffa">143.38MB</div><svg class="sp" viewBox="0 0 88.5 26.15" preserveAspectRatio="none" shape-rendering="crispEdges"><rect x="0" y="25.63" width="8.55" height="0.52" fill="#caf7dc"/><rect x="8.5" y="22.52" width="8.55" height="3.63" fill="#1bf071"/><rect x="17" y="16.83" width="8.55" height="9.32" fill="#18c4f5"/><rect x="25.5" y="19.16" width="8.55" height="6.99" fill="#19eeb7"/><rect x="34" y="1.55" width="8.55" height="24.60" fill="#158efa"/><rect x="42.5" y="12.68" width="8.55" height="13.47" fill="#1ba7f8"/><rect x="51" y="11.90" width="8.55" height="14.25" fill="#1aa5f9"/><rect x="59.5" y="12.68" width="8.55" height="13.47" fill="#1ba7f8"/><rect x="68" y="11.90" width="8.55" height="14.25" fill="#1aa5f9"/><rect x="76.5" y="14.24" width="8.55" height="11.91" fill="#1baaf9"/><rect x="85" y="14.24" width="8.55" height="11.91" fill="#1baaf9"/></svg></div><div class="r" style="top:1203.10px"><div class="t c" style="left:0;width:60px">45</div><svg class="fl" viewBox="0 0 36 26"><use href="#f-ca"/></svg><div class="t" style="left:91px"><span class="cj" style="width:48px">加拿大</span> <span class="ie">IEPL</span></div><div class="t c" style="left:290px;width:120px">Shadowsocks</div><div class="t c d" style="left:414px;width:84.5px;background:#2bdc5f">252ms</div><div class="t c d" style="left:498.5px;width:106.0px;background:#ff4500">2755ms</div><div class="t c" style="left:604.5px;width:101.0px;background:#666666">0.00B</div><div class="t c" style="left:705.5px;width:104.79999999999995px;background:#666666">0.00B</div></div><div class="r" style="top:1229.25px"><div class="t c" style="left:0;width:60px">46</div><svg class="fl" viewBox="0 0 36 26"><use href="#f-in"/></svg><div class="t" style="left:91px"><span class="cj" style="width:32px">印度</span> <span class="ie">IEPL</span></div><div class="t c" style="left:290px;width:120px">Shadowsocks</div><div class="t c d" style="left:414px;width:84.5px;background:#38d259">328ms</div><div class="t c d" style="left:498.5px;width:106.0px;background:#7ea03a">743ms</div><div class="t c" style="left:604.5px;width:101.0px;background:#1698f7">120.51MB</div><div class="t c" style="left:705.5px;width:104.79999999999995px;background:#0f79fb">193.06MB</div><svg class="sp" viewBox="0 0 88.5 26.15" preserveAspectRatio="none" shape-rendering="crispEdges"><rect x="8.5" y="17.86" width="8.55" height="8.29" fill="#1aacfa"/><rect x="17" y="1.55" width="8.55" height="24.60" fill="#0f79fb"/><rect x="25.5" y="5.69" width="8.55" height="20.46" fill="#1287fb"/><rect x="34" y="8.80" width="8.55" height="17.35" fill="#1691fa"/><rect x="42.5" y="9.83" width="8.55" height="16.32" fill="#1695f9"/><rect x="51" y="9.57" width="8.55" height="16.58" fill="#1694f9"/><rect x="59.5" y="9.83" width="8.55" height="16.32" fill="#1695f9"/><rect x="68" y="9.57" width="8.55" height="16.58" fill="#1694f9"/><rect x="76.5" y="9.83" width="8.55" height="16.32" fill="#1695f9"/><rect x="85" y="9.83" width="8.55" height="16.32" fill="#1695f9"/></svg></div><div class="r" style="top:1255.40px"><div class="t c" style="left:0;width:60px">47</div><svg class="fl" viewBox="0 0 36 26"><use href="#f-tr"/></svg><div class="t" style="left:91px"><span class="cj" style="width:48px">土耳其</span> <span class="ie">IEPL</span></div><div class="t c" style="left:290px;width:120px">Shadowsocks</div><div class="t c d" style="left:414px;width:84.5px;background:#2eda5e">268ms</div><div class="t c d" style="left:498.5px;width:106.0px;background:#ff4500">1601ms</div><div class="t c" style="left:604.5px;width:101.0px;background:#18e9c9">45.43MB</div><div class="t c" style="left:705.5px;width:104.79999999999995px;background:#1aacfa">64.26MB</div><svg class="sp" viewBox="0 0 88.5 26.15" preserveAspectRatio="none" shape-rendering="crispEdges"><rect x="0" y="22.27" width="8.55" height="3.88" fill="#7ff3aa"/><rect x="8.5" y="11.65" width="8.55" height="14.50" fill="#1af0ab"/><rect x="17" y="1.80" width="8.55" height="24.35" fill="#1aacfa"/><rect x="25.5" y="8.28" width="8.55" height="17.87" fill="#18e4d3"/><rect x="34" y="6.73" width="8.55" height="19.42" fill="#18d0ee"/><rect x="42.5" y="8.28" width="8.55" height="17.87" fill="#18e4d3"/><rect x="51" y="2.58" width="8.55" height="23.57" fill="#19b0fb"/><rect x="59.5" y="2.58" width="8.55" height="23.57" fill="#19b0fb"/><rect x="68" y="1.80" width="8.55" height="24.35" fill="#1aacfa"/><rect x="85" y="25.37" width="8.55" height="0.78" fill="#d0f8e0"/></svg></div><div class="r" style="top:1281.55px"><div class="t c" style="left:0;width:60px">48</div><svg class="fl" viewBox="0 0 36 26"><use href="#f-mx"/></svg><div class="t" style="left:91px"><span class="cj" style="width:48px">墨西哥</span> <span class="ie">IEPL</span></div><div class="t c" style="left:290px;width:120px">Shadowsocks</div><div class="t c d" style="left:414px;width:84.5px;background:#28de60">236ms</div><div class="t c d" style="left:498.5px;width:106.0px;background:#62b446">577ms</div><div class="t c" style="left:604.5px;width:101.0px;background:#1699f8">117.06MB</div><div class="t c" style="left:705.5px;width:104.79999999999995px;background:#158ffa">143.54MB</div><svg class="sp" viewBox="0 0 88.5 26.15" preserveAspectRatio="none" shape-rendering="crispEdges"><rect x="0" y="25.63" width="8.55" height="0.52" fill="#caf7dc"/><rect x="8.5" y="15.79" width="8.55" height="10.36" fill="#19b2fb"/><rect x="17" y="2.06" width="8.55" height="24.09" fill="#158ffa"/><rect x="25.5" y="2.06" width="8.55" height="24.09" fill="#158ffa"/><rect x="34" y="2.06" width="8.55" height="24.09" fill="#158ffa"/><rect x="42.5" y="2.32" width="8.55" height="23.83" fill="#1590fa"/><rect x="51" y="2.06" width="8.55" height="24.09" fill="#158ffa"/><rect x="59.5" y="2.06" width="8.55" height="24.09" fill="#158ffa"/><rect x="68" y="2.32" width="8.55" height="23.83" fill="#1590fa"/><rect x="76.5" y="2.06" width="8.55" height="24.09" fill="#158ffa"/><rect x="85" y="2.06" width="8.55" height="24.09" fill="#158ffa"/></svg></div><div class="r" style="top:1307.70px"><div class="t c" style="left:0;width:60px">49</div><svg class="fl" viewBox="0 0 36 26"><use href="#f-ng"/></svg><div class="t" style="left:91px"><span class="cj" style="width:64px">尼日利亚</span> <span class="ie">IEPL</span></div><div class="t c" style="left:290px;width:120px">Shadowsocks</div><div class="t c d" style="left:414px;width:84.5px;background:#3ece56">364ms</div><div class="t c d" style="left:498.5px;width:106.0px;background:#9f892b">934ms</div><div class="t c" style="left:604.5px;width:101.0px;background:#18c6f4">54.14MB</div><div class="t c" style="left:705.5px;width:104.79999999999995px;background:#1699f7">118.61MB</div><svg class="sp" viewBox="0 0 88.5 26.15" preserveAspectRatio="none" shape-rendering="crispEdges"><rect x="8.5" y="25.89" width="8.55" height="0.26" fill="#d6f8e4"/><rect x="17" y="18.38" width="8.55" height="7.77" fill="#1af0a9"/><rect x="25.5" y="19.42" width="8.55" height="6.73" fill="#19f097"/><rect x="34" y="3.88" width="8.55" height="22.27" fill="#179cf9"/><rect x="42.5" y="14.49" width="8.55" height="11.65" fill="#18bdf9"/><rect x="51" y="12.68" width="8.55" height="13.47" fill="#1aacfa"/><rect x="59.5" y="1.80" width="8.55" height="24.35" fill="#1699f7"/><rect x="68" y="12.68" width="8.55" height="13.47" fill="#1aacfa"/><rect x="76.5" y="16.05" width="8.55" height="10.10" fill="#18d9e6"/><rect x="85" y="16.05" width="8.55" height="10.10" fill="#18d9e6"/></svg></div><div class="r" style="top:1333.85px"><div class="t c" style="left:0;width:60px">50</div><svg class="fl" viewBox="0 0 36 26"><use href="#f-br"/></svg><div class="t" style="left:91px"><span class="cj" style="width:32px">巴西</span> <span class="ie">IEPL</span></div><div class="t c" style="left:290px;width:120px">Shadowsocks</div><div class="t c d" style="left:414px;width:84.5px;background:#3bd058">348ms</div><div class="t c d" style="left:498.5px;width:106.0px;background:#859b36">785ms</div><div class="t c" style="left:604.5px;width:101.0px;background:#1aa3f9">87.14MB</div><div class="t c" style="left:705.5px;width:104.79999999999995px;background:#158ffa">143.66MB</div><svg class="sp" viewBox="0 0 88.5 26.15" preserveAspectRatio="none" shape-rendering="crispEdges"><rect x="8.5" y="25.63" width="8.55" height="0.52" fill="#caf7dc"/><rect x="17" y="15.27" width="8.55" height="10.88" fill="#1aacfa"/><rect x="25.5" y="8.02" width="8.55" height="18.13" fill="#179df9"/><rect x="34" y="10.61" width="8.55" height="15.54" fill="#19a2fa"/><rect x="42.5" y="1.55" width="8.55" height="24.60" fill="#158efa"/><rect x="51" y="6.47" width="8.55" height="19.68" fill="#169af8"/><rect x="59.5" y="3.88" width="8.55" height="22.27" fill="#1694f9"/><rect x="68" y="5.69" width="8.55" height="20.46" fill="#1699f7"/><rect x="76.5" y="13.72" width="8.55" height="12.43" fill="#1ca9f8"/><rect x="85" y="13.72" width="8.55" height="12.43" fill="#1ca9f8"/></svg></div><div class="r" style="top:1360.00px"><div class="t c" style="left:0;width:60px">51</div><svg class="fl" viewBox="0 0 36 26"><use href="#f-de"/></svg><div class="t" style="left:91px"><span class="cj" style="width:32px">德国</span> <span class="ie">IEPL</span> 01</div><div class="t c" style="left:290px;width:120px">Shadowsocks</div><div class="t c d" style="left:414px;width:84.5px;background:#27de60">232ms</div><div class="t c d" style="left:498.5px;width:106.0px;background:#58bc4b">517ms</div><div class="t c" style="left:604.5px;width:101.0px;background:#1697f7">123.70MB</div><div class="t c" style="left:705.5px;width:104.79999999999995px;background:#1184fc">171.18MB</div><svg class="sp" viewBox="0 0 88.5 26.15" preserveAspectRatio="none" shape-rendering="crispEdges"><rect x="0" y="25.63" width="8.55" height="0.52" fill="#c6f7da"/><rect x="8.5" y="4.91" width="8.55" height="21.24" fill="#148cfb"/><rect x="17" y="1.80" width="8.55" height="24.35" fill="#1184fc"/><rect x="25.5" y="7.24" width="8.55" height="18.91" fill="#1693f9"/><rect x="34" y="7.50" width="8.55" height="18.65" fill="#1694f9"/><rect x="42.5" y="7.24" width="8.55" height="18.91" fill="#1693f9"/><rect x="51" y="7.50" width="8.55" height="18.65" fill="#1694f9"/><rect x="59.5" y="7.50" width="8.55" height="18.65" fill="#1694f9"/><rect x="68" y="7.24" width="8.55" height="18.91" fill="#1693f9"/><rect x="76.5" y="7.50" width="8.55" height="18.65" fill="#1694f9"/><rect x="85" y="7.50" width="8.55" height="18.65" fill="#1694f9"/></svg></div><div class="r" style="top:1386.15px"><div class="t c" style="left:0;width:60px">52</div><svg class="fl" viewBox="0 0 36 26"><use href="#f-de"/></svg><div class="t" style="left:91px"><span class="cj" style="width:32px">德国</span> <span class="ie">IEPL</span> 02 <span class="pm">[Premium]</span></div><div class="t c" style="left:290px;width:120px">Shadowsocks</div><div class="t c d" style="left:414px;width:84.5px;background:#27de61">228ms</div><div class="t c d" style="left:498.5px;width:106.0px;background:#64b345">590ms</div><div class="t c" style="left:604.5px;width:101.0px;background:#1697f7">123.59MB</div><div class="t c" style="left:705.5px;width:104.79999999999995px;background:#107efc">184.27MB</div><svg class="sp" viewBox="0 0 88.5 26.15" preserveAspectRatio="none" shape-rendering="crispEdges"><rect x="0" y="25.63" width="8.55" height="0.52" fill="#c4f7d8"/><rect x="8.5" y="8.02" width="8.55" height="18.13" fill="#1691fa"/><rect x="17" y="1.55" width="8.55" height="24.60" fill="#107dfc"/><rect x="25.5" y="9.31" width="8.55" height="16.84" fill="#1696f8"/><rect x="34" y="9.31" width="8.55" height="16.84" fill="#1696f8"/><rect x="42.5" y="9.31" width="8.55" height="16.84" fill="#1696f8"/><rect x="51" y="9.57" width="8.55" height="16.58" fill="#1697f8"/><rect x="59.5" y="9.31" width="8.55" height="16.84" fill="#1696f8"/><rect x="68" y="9.31" width="8.55" height="16.84" fill="#1696f8"/><rect x="76.5" y="9.31" width="8.55" height="16.84" fill="#1696f8"/><rect x="85" y="9.31" width="8.55" height="16.84" fill="#1696f8"/></svg></div><div class="r" style="top:1412.30px"><div class="t c" style="left:0;width:60px">53</div><svg class="fl" viewBox="0 0 36 26"><use href="#f-fr"/></svg><div class="t" style="left:91px"><span class="cj" style="width:32px">法国</span> <span class="ie">IEPL</span></div><div class="t c" style="left:290px;width:120px">Shadowsocks</div><div class="t c d" style="left:414px;width:84.5px;background:#27de60">232ms</div><div class="t c d" style="left:498.5px;width:106.0px;background:#63b446">583ms</div><div class="t c" style="left:604.5px;width:101.0px;background:#1699f8">116.97MB</div><div class="t c" style="left:705.5px;width:104.79999999999995px;background:#107dfc">185.66MB</div><svg class="sp" viewBox="0 0 88.5 26.15" preserveAspectRatio="none" shape-rendering="crispEdges"><rect x="8.5" y="21.75" width="8.55" height="4.40" fill="#19f09a"/><rect x="17" y="1.29" width="8.55" height="24.86" fill="#0f7bfb"/><rect x="25.5" y="5.43" width="8.55" height="20.72" fill="#1389fb"/><rect x="34" y="9.57" width="8.55" height="16.58" fill="#1696f8"/><rect x="42.5" y="9.57" width="8.55" height="16.58" fill="#1696f8"/><rect x="51" y="9.31" width="8.55" height="16.84" fill="#1695f8"/><rect x="59.5" y="9.57" width="8.55" height="16.58" fill="#1696f8"/><rect x="68" y="9.57" width="8.55" height="16.58" fill="#1696f8"/><rect x="76.5" y="9.31" width="8.55" height="16.84" fill="#1695f8"/><rect x="85" y="9.31" width="8.55" height="16.84" fill="#1695f8"/></svg></div><div class="r" style="top:1438.45px"><div class="t c" style="left:0;width:60px">54</div><svg class="fl" viewBox="0 0 36 26"><use href="#f-th"/></svg><div class="t" style="left:91px"><span class="cj" style="width:32px">泰国</span> <span class="ie">IEPL</span></div><div class="t c" style="left:290px;width:120px">Shadowsocks</div><div class="t c d" style="left:414px;width:84.5px;background:#14ec69">117ms</div><div class="t c d" style="left:498.5px;width:106.0px;background:#44ca54">401ms</div><div class="t c" style="left:604.5px;width:101.0px;background:#1af0ae">38.92MB</div><div class="t c" style="left:705.5px;width:104.79999999999995px;background:#18e6d0">46.61MB</div><svg class="sp" viewBox="0 0 88.5 26.15" preserveAspectRatio="none" shape-rendering="crispEdges"><rect x="0" y="17.09" width="8.55" height="9.06" fill="#39f27f"/><rect x="8.5" y="3.36" width="8.55" height="22.79" fill="#19ecc1"/><rect x="17" y="6.47" width="8.55" height="19.68" fill="#1af0a9"/><rect x="25.5" y="6.21" width="8.55" height="19.94" fill="#1af0ab"/><rect x="34" y="6.47" width="8.55" height="19.68" fill="#1af0a9"/><rect x="42.5" y="6.73" width="8.55" height="19.42" fill="#1af0a7"/><rect x="51" y="6.47" width="8.55" height="19.68" fill="#1af0a9"/><rect x="59.5" y="6.21" width="8.55" height="19.94" fill="#1af0ab"/><rect x="68" y="6.47" width="8.55" height="19.68" fill="#1af0a9"/><rect x="76.5" y="6.47" width="8.55" height="19.68" fill="#1af0a9"/><rect x="85" y="6.47" width="8.55" height="19.68" fill="#1af0a9"/></svg></div><div class="r" style="top:1464.60px"><div class="t c" style="left:0;width:60px">55</div><svg class="fl" viewBox="0 0 36 26"><use href="#f-au"/></svg><div class="t" style="left:91px"><span class="cj" style="width:64px">澳大利亚</span> <span class="ie">IEPL</span></div><div class="t c" style="left:290px;width:120px">Shadowsocks</div><div class="t c d" style="left:414px;width:84.5px;background:#33d65b">298ms</div><div class="t c d" style="left:498.5px;width:106.0px;background:#839d37">770ms</div><div class="t c" style="left:604.5px;width:101.0px;background:#98f4ba">8.00MB</div><div class="t c" style="left:705.5px;width:104.79999999999995px;background:#6af29e">11.97MB</div><svg class="sp" viewBox="0 0 88.5 26.15" preserveAspectRatio="none" shape-rendering="crispEdges"><rect x="8.5" y="24.85" width="8.55" height="1.29" fill="#c7f7da"/><rect x="17" y="24.85" width="8.55" height="1.29" fill="#c7f7da"/><rect x="25.5" y="24.08" width="8.55" height="2.07" fill="#b7f6d0"/><rect x="34" y="24.08" width="8.55" height="2.07" fill="#b7f6d0"/><rect x="42.5" y="21.49" width="8.55" height="4.66" fill="#65f39a"/><rect x="51" y="21.49" width="8.55" height="4.66" fill="#65f39a"/><rect x="59.5" y="21.49" width="8.55" height="4.66" fill="#65f39a"/><rect x="68" y="23.56" width="8.55" height="2.59" fill="#a5f5c3"/><rect x="76.5" y="24.08" width="8.55" height="2.07" fill="#b7f6d0"/><rect x="85" y="24.08" width="8.55" height="2.07" fill="#b7f6d0"/></svg></div><div class="r" style="top:1490.75px"><div class="t c" style="left:0;width:60px">56</div><svg class="fl" viewBox="0 0 36 26"><use href="#f-gb"/></svg><div class="t" style="left:91px"><span class="cj" style="width:32px">英国</span> <span class="ie">IEPL</span> 01</div><div class="t c" style="left:290px;width:120px">Shadowsocks</div><div class="t c d" style="left:414px;width:84.5px;background:#27de61">229ms</div><div class="t c d" style="left:498.5px;width:106.0px;background:#55be4c">499ms</div><div class="t c" style="left:604.5px;width:101.0px;background:#1698f7">122.00MB</div><div class="t c" style="left:705.5px;width:104.79999999999995px;background:#0f7cfb">187.43MB</div><svg class="sp" viewBox="0 0 88.5 26.15" preserveAspectRatio="none" shape-rendering="crispEdges"><rect x="8.5" y="11.13" width="8.55" height="15.02" fill="#179af8"/><rect x="17" y="2.06" width="8.55" height="24.09" fill="#107efc"/><rect x="25.5" y="10.09" width="8.55" height="16.06" fill="#1697f7"/><rect x="34" y="10.09" width="8.55" height="16.06" fill="#1697f7"/><rect x="42.5" y="9.83" width="8.55" height="16.32" fill="#1697f8"/><rect x="51" y="10.09" width="8.55" height="16.06" fill="#1697f7"/><rect x="59.5" y="10.09" width="8.55" height="16.06" fill="#1697f7"/><rect x="68" y="10.09" width="8.55" height="16.06" fill="#1697f7"/><rect x="76.5" y="9.83" width="8.55" height="16.32" fill="#1697f8"/><rect x="85" y="9.83" width="8.55" height="16.32" fill="#1697f8"/></svg></div><div class="r" style="top:1516.90px"><div class="t c" style="left:0;width:60px">57</div><svg class="fl" viewBox="0 0 36 26"><use href="#f-gb"/></svg><div class="t" style="left:91px"><span class="cj" style="width:32px">英国</span> <span class="ie">IEPL</span> 02 <span class="pm">[Premium]</span></div><div class="t c" style="left:290px;width:120px">Shadowsocks</div><div class="t c d" style="left:414px;width:84.5px;background:#27de60">231ms</div><div class="t c d" style="left:498.5px;width:106.0px;background:#63b446">583ms</div><div class="t c" style="left:604.5px;width:101.0px;background:#1698f7">123.05MB</div><div class="t c" style="left:705.5px;width:104.79999999999995px;background:#1081fc">177.62MB</div><svg class="sp" viewBox="0 0 88.5 26.15" preserveAspectRatio="none" shape-rendering="crispEdges"><rect x="8.5" y="6.98" width="8.55" height="19.17" fill="#1590fa"/><rect x="17" y="1.80" width="8.55" height="24.35" fill="#1081fc"/><rect x="25.5" y="8.80" width="8.55" height="17.35" fill="#1696f8"/><rect x="34" y="8.80" width="8.55" height="17.35" fill="#1696f8"/><rect x="42.5" y="8.80" width="8.55" height="17.35" fill="#1696f8"/><rect x="51" y="9.06" width="8.55" height="17.09" fill="#1697f8"/><rect x="59.5" y="8.80" width="8.55" height="17.35" fill="#1696f8"/><rect x="68" y="8.80" width="8.55" height="17.35" fill="#1696f8"/><rect x="76.5" y="8.80" width="8.55" height="17.35" fill="#1696f8"/><rect x="85" y="8.80" width="8.55" height="17.35" fill="#1696f8"/></svg></div><div class="r" style="top:1543.05px"><div class="t c" style="left:0;width:60px">58</div><svg class="fl" viewBox="0 0 36 26"><use href="#f-ph"/></svg><div class="t" style="left:91px"><span class="cj" style="width:48px">菲律宾</span> <span class="ie">IEPL</span></div><div class="t c" style="left:290px;width:120px">Shadowsocks</div><div class="t c d" style="left:414px;width:84.5px;background:#10ef6b">92ms</div><div class="t c d" style="left:498.5px;width:106.0px;background:#2dda5e">264ms</div><div class="t c" style="left:604.5px;width:101.0px;background:#1af072">22.27MB</div><div class="t c" style="left:705.5px;width:104.79999999999995px;background:#18e2d8">47.45MB</div><svg class="sp" viewBox="0 0 88.5 26.15" preserveAspectRatio="none" shape-rendering="crispEdges"><rect x="0" y="2.32" width="8.55" height="23.83" fill="#18e8cc"/><rect x="8.5" y="7.24" width="8.55" height="18.91" fill="#1af0a6"/><rect x="17" y="7.24" width="8.55" height="18.91" fill="#1af0a6"/><rect x="25.5" y="9.83" width="8.55" height="16.32" fill="#19f094"/><rect x="34" y="10.61" width="8.55" height="15.54" fill="#19f08e"/><rect x="42.5" y="11.39" width="8.55" height="14.76" fill="#18f089"/></svg></div><div class="r" style="top:1569.20px"><div class="t c" style="left:0;width:60px">59</div><svg class="fl" viewBox="0 0 36 26"><use href="#f-ar"/></svg><div class="t" style="left:91px"><span class="cj" style="width:48px">阿根廷</span> <span class="ie">IEPL</span></div><div class="t c" style="left:290px;width:120px">Shadowsocks</div><div class="t c d" style="left:414px;width:84.5px;background:#50c14e">469ms</div><div class="t c d" style="left:498.5px;width:106.0px;background:#c0721c">1128ms</div><div class="t c" style="left:604.5px;width:101.0px;background:#18e5d2">46.87MB</div><div class="t c" style="left:705.5px;width:104.79999999999995px;background:#1aadfa">63.34MB</div><svg class="sp" viewBox="0 0 88.5 26.15" preserveAspectRatio="none" shape-rendering="crispEdges"><rect x="8.5" y="23.04" width="8.55" height="3.11" fill="#97f4ba"/><rect x="17" y="8.54" width="8.55" height="17.61" fill="#18e9ca"/><rect x="25.5" y="9.31" width="8.55" height="16.84" fill="#18ebc2"/><rect x="34" y="1.80" width="8.55" height="24.35" fill="#1aaefa"/><rect x="42.5" y="1.80" width="8.55" height="24.35" fill="#1aaefa"/><rect x="51" y="1.80" width="8.55" height="24.35" fill="#1aaefa"/><rect x="59.5" y="1.80" width="8.55" height="24.35" fill="#1aaefa"/><rect x="68" y="1.80" width="8.55" height="24.35" fill="#1aaefa"/><rect x="76.5" y="3.62" width="8.55" height="22.53" fill="#18b8fb"/><rect x="85" y="4.39" width="8.55" height="21.76" fill="#18bef9"/></svg></div><div class="r" style="top:1595.35px"><div class="t c" style="left:0;width:60px">60</div><svg class="fl" viewBox="0 0 36 26"><use href="#f-my"/></svg><div class="t" style="left:91px"><span class="cj" style="width:64px">马来西亚</span> <span class="ie">IEPL</span></div><div class="t c" style="left:290px;width:120px">Shadowsocks</div><div class="t c d" style="left:414px;width:84.5px;background:#0ef06c">80ms</div><div class="t c d" style="left:498.5px;width:106.0px;background:#2cdb5e">257ms</div><div class="t c" style="left:604.5px;width:101.0px;background:#18f07e">25.59MB</div><div class="t c" style="left:705.5px;width:104.79999999999995px;background:#18eac8">45.10MB</div><svg class="sp" viewBox="0 0 88.5 26.15" preserveAspectRatio="none" shape-rendering="crispEdges"><rect x="0" y="3.62" width="8.55" height="22.53" fill="#19edb9"/><rect x="8.5" y="15.01" width="8.55" height="11.14" fill="#1cf070"/><rect x="17" y="15.01" width="8.55" height="11.14" fill="#1cf070"/><rect x="25.5" y="14.75" width="8.55" height="11.40" fill="#1bf071"/><rect x="34" y="15.01" width="8.55" height="11.14" fill="#1cf070"/><rect x="42.5" y="15.27" width="8.55" height="10.88" fill="#1ef071"/><rect x="51" y="15.01" width="8.55" height="11.14" fill="#1cf070"/><rect x="59.5" y="15.01" width="8.55" height="11.14" fill="#1cf070"/><rect x="68" y="15.01" width="8.55" height="11.14" fill="#1cf070"/><rect x="76.5" y="15.01" width="8.55" height="11.14" fill="#1cf070"/><rect x="85" y="15.01" width="8.55" height="11.14" fill="#1cf070"/></svg></div><div class="hl d" style="top:25.85px"></div><div class="hl" style="top:52.00px"></div><div class="hl" style="top:78.15px"></div><div class="hl" style="top:104.30px"></div><div class="hl" style="top:130.45px"></div><div class="hl" style="top:156.60px"></div><div class="hl" style="top:182.75px"></div><div class="hl" style="top:208.90px"></div><div class="hl" style="top:235.05px"></div><div class="hl" style="top:261.20px"></div><div class="hl" style="top:287.35px"></div><div class="hl" style="top:313.50px"></div><div class="hl" style="top:339.65px"></div><div class="hl" style="top:365.80px"></div><div class="hl" style="top:391.95px"></div><div class="hl" style="top:418.10px"></div><div class="hl" style="top:444.25px"></div><div class="hl" style="top:470.40px"></div><div class="hl" style="top:496.55px"></div><div class="hl" style="top:522.70px"></div><div class="hl" style="top:548.85px"></div><div class="hl" style="top:575.00px"></div><div class="hl" style="top:601.15px"></div><div class="hl" style="top:627.30px"></div><div class="hl" style="top:653.45px"></div><div class="hl" style="top:679.60px"></div><div class="hl" style="top:705.75px"></div><div class="hl" style="top:731.90px"></div><div class="hl" style="top:758.05px"></div><div class="hl" style="top:784.20px"></div><div class="hl" style="top:810.35px"></div><div class="hl" style="top:836.50px"></div><div class="hl" style="top:862.65px"></div><div class="hl" style="top:888.80px"></div><div class="hl" style="top:914.95px"></div><div class="hl" style="top:941.10px"></div><div class="hl" style="top:967.25px"></div><div class="hl" style="top:993.40px"></div><div class="hl" style="top:1019.55px"></div><div class="hl" style="top:1045.70px"></div><div class="hl" style="top:1071.85px"></div><div class="hl" style="top:1098.00px"></div><div class="hl" style="top:1124.15px"></div><div class="hl" style="top:1150.30px"></div><div class="hl" style="top:1176.45px"></div><div class="hl" style="top:1202.60px"></div><div class="hl" style="top:1228.75px"></div><div class="hl" style="top:1254.90px"></div><div class="hl" style="top:1281.05px"></div><div class="hl" style="top:1307.20px"></div><div class="hl" style="top:1333.35px"></div><div class="hl" style="top:1359.50px"></div><div class="hl" style="top:1385.65px"></div><div class="hl" style="top:1411.80px"></div><div class="hl" style="top:1437.95px"></div><div class="hl" style="top:1464.10px"></div><div class="hl" style="top:1490.25px"></div><div class="hl" style="top:1516.40px"></div><div class="hl" style="top:1542.55px"></div><div class="hl" style="top:1568.70px"></div><div class="hl" style="top:1594.85px"></div><div class="hl" style="top:1621.00px"></div><div class="hl w" style="top:1647.15px"></div><div class="hl w" style="top:1673.30px"></div><div class="vl" style="left:497.90px;top:52.50px;height:1569.00px"></div><div class="vl" style="left:603.90px;top:52.50px;height:1569.00px"></div><div class="vl" style="left:704.90px;top:52.50px;height:1569.00px"></div><div class="vl" style="left:809.70px;top:52.50px;height:1569.00px"></div><div class="t" style="top:1621.50px;left:10.7px"><svg class="chk" viewBox="0 0 36 36"><rect x="1" y="1" width="34" height="34" rx="5" fill="#7DBB5E" stroke="#63A246" stroke-width="2"/><path d="M9 19l6.5 6.5L28 10" fill="none" stroke="#fff" stroke-width="4.6" stroke-linecap="round" stroke-linejoin="round"/></svg><span class="sx l" style="margin-left:8.6px;transform:scaleX(.966)"><span class="cj" style="width:48px">已核实</span> TLS <span class="cj" style="width:48px">证书。</span>TLS RTT <span class="cj" style="width:160px">为单次数据交换延迟，</span> HTTPS Ping <span class="cj" style="width:160px">为单次请求体感延迟。</span></span></div><div class="t" style="top:1647.65px;left:9px"><span class="sx l" style="transform:scaleX(1.0196)"><span class="cj" style="width:32px">主端</span>=4.3.3 (696) <span class="cj" style="width:32px">喵速</span>=5.0.0-beta6 (<svg class="tofu" viewBox="0 0 6 14"><rect x=".6" y=".6" width="4.8" height="12.8" fill="none" stroke="#222" stroke-width="1"/></svg><span class="cj" style="width:32px">华东</span>-<span class="cj" style="width:64px">上海电信</span> [1Gbps]), <span class="cj" style="width:32px">线程</span>=8 <span class="cj" style="width:32px">概要</span>=60/60 <span class="cj" style="width:32px">排序</span>=<span class="cj" style="width:64px">订阅原序</span> <span class="cj" style="width:48px">过滤器</span>=</span></div><div class="t" style="top:1673.80px;left:9px"><span class="sx l" style="transform:scaleX(.991)"><span class="cj" style="width:80px">测试时间：</span>2026-02-20 13:36:00 (CST)<span class="cj" style="width:256px">，本测试为试验性结果，仅供参考。</span></span></div><svg class="wms" width="900" height="1701" viewBox="0 0 900 1701"><text x="288" y="-78.7" transform="rotate(-15 288 -78.7)">FFQ.LA<tspan dx="2.5" style="letter-spacing:2px"> Test</tspan><tspan dx="-.5"> Center</tspan></text><text x="288" y="61.2" transform="rotate(-15 288 61.2)">FFQ.LA<tspan dx="2.5" style="letter-spacing:2px"> Test</tspan><tspan dx="-.5"> Center</tspan></text><text x="288" y="201.1" transform="rotate(-15 288 201.1)">FFQ.LA<tspan dx="2.5" style="letter-spacing:2px"> Test</tspan><tspan dx="-.5"> Center</tspan></text><text x="288" y="341.0" transform="rotate(-15 288 341.0)">FFQ.LA<tspan dx="2.5" style="letter-spacing:2px"> Test</tspan><tspan dx="-.5"> Center</tspan></text><text x="288" y="480.9" transform="rotate(-15 288 480.9)">FFQ.LA<tspan dx="2.5" style="letter-spacing:2px"> Test</tspan><tspan dx="-.5"> Center</tspan></text><text x="288" y="620.8" transform="rotate(-15 288 620.8)">FFQ.LA<tspan dx="2.5" style="letter-spacing:2px"> Test</tspan><tspan dx="-.5"> Center</tspan></text><text x="288" y="760.7" transform="rotate(-15 288 760.7)">FFQ.LA<tspan dx="2.5" style="letter-spacing:2px"> Test</tspan><tspan dx="-.5"> Center</tspan></text><text x="288" y="900.6" transform="rotate(-15 288 900.6)">FFQ.LA<tspan dx="2.5" style="letter-spacing:2px"> Test</tspan><tspan dx="-.5"> Center</tspan></text><text x="288" y="1040.5" transform="rotate(-15 288 1040.5)">FFQ.LA<tspan dx="2.5" style="letter-spacing:2px"> Test</tspan><tspan dx="-.5"> Center</tspan></text><text x="288" y="1180.4" transform="rotate(-15 288 1180.4)">FFQ.LA<tspan dx="2.5" style="letter-spacing:2px"> Test</tspan><tspan dx="-.5"> Center</tspan></text><text x="288" y="1320.3" transform="rotate(-15 288 1320.3)">FFQ.LA<tspan dx="2.5" style="letter-spacing:2px"> Test</tspan><tspan dx="-.5"> Center</tspan></text><text x="288" y="1460.2" transform="rotate(-15 288 1460.2)">FFQ.LA<tspan dx="2.5" style="letter-spacing:2px"> Test</tspan><tspan dx="-.5"> Center</tspan></text><text x="288" y="1600.1" transform="rotate(-15 288 1600.1)">FFQ.LA<tspan dx="2.5" style="letter-spacing:2px"> Test</tspan><tspan dx="-.5"> Center</tspan></text><text x="288" y="1740.0" transform="rotate(-15 288 1740.0)">FFQ.LA<tspan dx="2.5" style="letter-spacing:2px"> Test</tspan><tspan dx="-.5"> Center</tspan></text></svg><svg class="logo" viewBox="0 0 130 135" width="130" height="135"><g fill="#000"><circle cx="64.5" cy="14.5" r="4.6"/><path d="M38 33.5L48 21.5H60L68 33L77 24" fill="none" stroke="#000" stroke-width="5.2" stroke-linecap="round" stroke-linejoin="round"/><path d="M52 22L62 24L56 40L46 48L22 48" fill="none" stroke="#000" stroke-width="6" stroke-linecap="round" stroke-linejoin="round"/><path d="M50 24L60 24L56 38L47 40z"/><path d="M54 38L61 45L59 54" fill="none" stroke="#000" stroke-width="6" stroke-linecap="butt" stroke-linejoin="round"/></g><g fill="none" stroke="#7fcfc9" stroke-width="7" stroke-linecap="round" stroke-linejoin="round"><path d="M15.5 89L21.5 56H36c9 0 9 15-2 16H19M31 73L38 89"/><path d="M51.5 56L48 76c-1.5 8 3.5 13.5 12 13.5s14-5 15.5-13L79 56"/><path d="M87 89L93 56L111 89L117 56"/></g></svg><div class="lt"><span class="cj" style="width:102.4px">润土分享</span></div><div class="bk"></div></div></body></html>
